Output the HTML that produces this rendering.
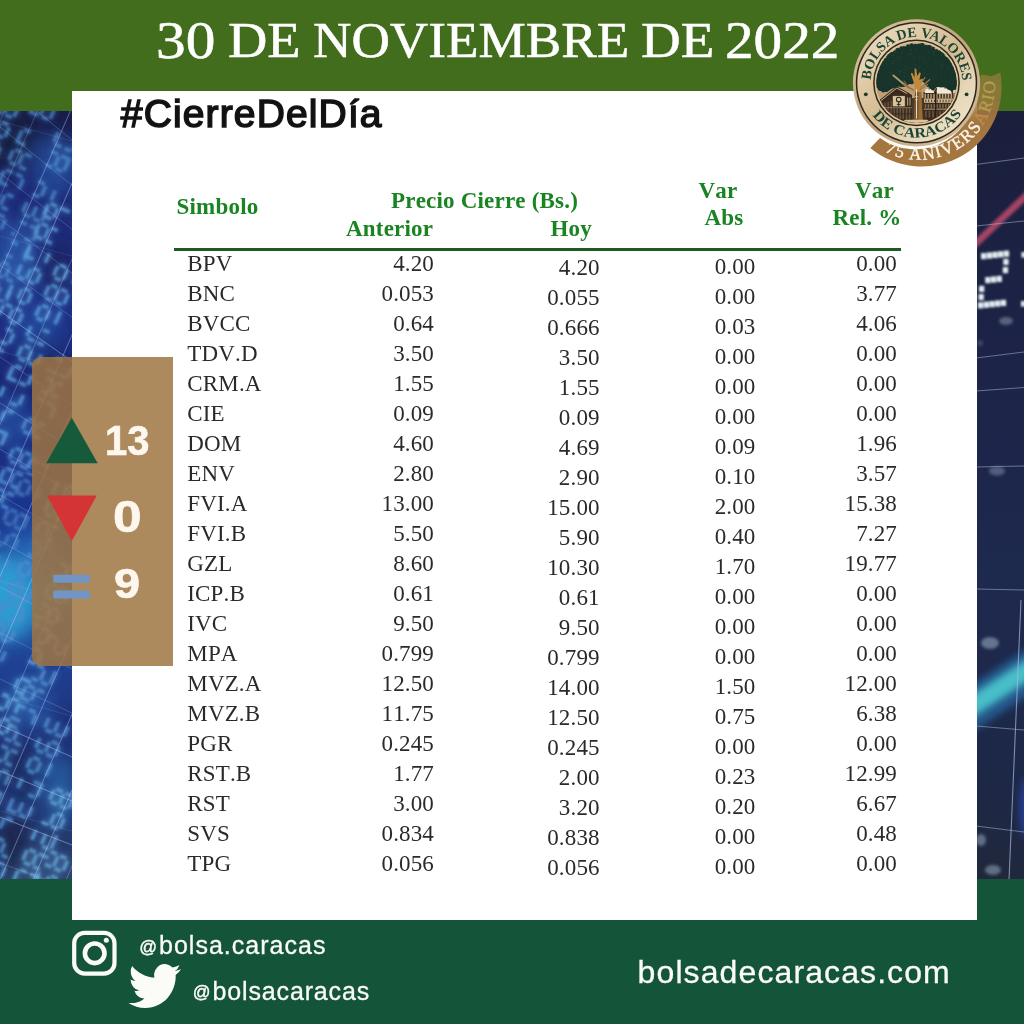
<!DOCTYPE html>
<html lang="es">
<head>
<meta charset="utf-8">
<title>Cierre del Día - Bolsa de Valores de Caracas</title>
<style>
html,body{margin:0;padding:0;}
body{width:1024px;height:1024px;position:relative;overflow:hidden;background:#1b2a5a;font-family:"Liberation Sans",sans-serif;}
.abs{position:absolute;}
#bgL{left:0;top:111px;overflow:hidden;}
#bgR{left:976px;top:111px;overflow:hidden;}
#top{left:0;top:0;width:1024px;height:111px;background:#416d1c;}
#bot{left:0;top:879px;width:1024px;height:145px;background:#14553a;}
#panel{left:72px;top:91px;width:904.6px;height:828.8px;background:#fff;}
#title{-webkit-text-stroke:0.55px #fff;left:0;top:10px;width:1024px;height:60px;color:#fff;font-family:"Liberation Serif",serif;font-size:50px;line-height:60px;white-space:nowrap;transform-origin:0 0;}
#title .w{position:absolute;top:0;transform-origin:0 0;}
#w1{left:156.3px;font-size:52.5px;top:-0.8px;transform:scaleX(1.13);}#w2{left:228.3px;transform:scaleX(1.089);}#w3{left:313px;transform:scaleX(1.064);}#w4{left:640.7px;transform:scaleX(1.10);}#w5{left:724.8px;font-size:52.5px;top:-0.8px;transform:scaleX(1.089);}
#hash{left:120.8px;top:91.8px;letter-spacing:1.14px;-webkit-text-stroke:1.55px #141414;font-weight:normal;font-size:39px;line-height:44px;color:#111;white-space:nowrap;transform-origin:0 0;}
#side{left:32px;top:357px;width:141px;height:309px;background:rgba(159,116,66,0.85);border-radius:9px 0 0 9px;}
.num{-webkit-text-stroke:0.7px #fdf7ee;color:#fdf7ee;font-weight:bold;font-size:41px;line-height:46px;position:absolute;white-space:nowrap;}
.t{font-kerning:none;font-family:"Liberation Serif",serif;color:#2a2a2a;font-size:23px;line-height:30px;letter-spacing:0.15px;position:absolute;white-space:nowrap;}
.h{font-kerning:none;font-family:"Liberation Serif",serif;color:#1a8422;font-weight:bold;font-size:23px;line-height:24px;letter-spacing:0.2px;position:absolute;white-space:nowrap;}
#data{border-collapse:collapse;border-spacing:0;table-layout:fixed;}
#data td{padding:0;height:30px;text-align:right;vertical-align:top;overflow:visible;}
#data td.s{text-align:left;padding-left:13.3px;}
#data span{position:relative;display:inline-block;line-height:30px;}
#rule{left:174px;top:248px;width:727px;height:2.5px;background:#1c5a1e;}
.soc{-webkit-text-stroke:0.3px #fbfbf7;color:#fbfbf7;font-size:25px;line-height:36px;position:absolute;white-space:nowrap;letter-spacing:0.75px;}
.at{font-size:17.5px;position:relative;top:-1.6px;letter-spacing:1.9px;-webkit-text-stroke:0.45px #fbfbf7;}
</style>
</head>
<body>
<svg id="bgL" class="abs" width="73" height="769" viewBox="0 0 73 769">
<defs>
<linearGradient id="lg1" x1="0" y1="0" x2="0" y2="1">
<stop offset="0" stop-color="#191d48"/><stop offset="0.10" stop-color="#1d2a74"/><stop offset="0.26" stop-color="#1f3086"/>
<stop offset="0.36" stop-color="#1a2672"/><stop offset="0.46" stop-color="#1c2e86"/><stop offset="0.54" stop-color="#1e3a94"/><stop offset="0.62" stop-color="#2368b4"/>
<stop offset="0.70" stop-color="#21469a"/><stop offset="0.80" stop-color="#1e3178"/><stop offset="0.92" stop-color="#223670"/><stop offset="1" stop-color="#293f6a"/>
</linearGradient>
<filter id="bl8" x="-50%" y="-50%" width="200%" height="200%"><feGaussianBlur stdDeviation="9"/></filter>
<filter id="bl3" x="-50%" y="-50%" width="200%" height="200%"><feGaussianBlur stdDeviation="2.5"/></filter>
<filter id="glow" x="-10%" y="-10%" width="120%" height="120%"><feGaussianBlur in="SourceGraphic" stdDeviation="3" result="g"/><feGaussianBlur in="SourceGraphic" stdDeviation="0.9" result="s"/><feMerge><feMergeNode in="g"/><feMergeNode in="s"/></feMerge></filter>
</defs>
<rect width="73" height="769" fill="url(#lg1)"/>
<g filter="url(#bl8)">
<ellipse cx="6" cy="22" rx="30" ry="36" fill="#171c40" opacity="0.95"/>
<ellipse cx="58" cy="157" rx="18" ry="26" fill="#15205c" opacity="0.8"/>
<ellipse cx="44" cy="237" rx="20" ry="18" fill="#172260" opacity="0.6"/>
<ellipse cx="20" cy="359" rx="24" ry="30" fill="#182a7c" opacity="0.5"/>
<ellipse cx="55" cy="54" rx="22" ry="30" fill="#2c68c0" opacity="0.5"/>
<ellipse cx="15" cy="144" rx="20" ry="36" fill="#2f70c4" opacity="0.5"/>
<ellipse cx="40" cy="219" rx="22" ry="24" fill="#2b64bc" opacity="0.4"/>
<ellipse cx="12" cy="309" rx="18" ry="28" fill="#2c6cc2" opacity="0.45"/>
<ellipse cx="8" cy="487" rx="30" ry="42" fill="#2fa8d8" opacity="0.85"/>
<ellipse cx="34" cy="449" rx="22" ry="30" fill="#2a86cc" opacity="0.45"/>
<ellipse cx="52" cy="529" rx="14" ry="30" fill="#1d3a94" opacity="0.5"/>
<ellipse cx="28" cy="594" rx="24" ry="26" fill="#2c72c4" opacity="0.45"/>
<ellipse cx="60" cy="679" rx="16" ry="36" fill="#2e80c6" opacity="0.5"/>
<ellipse cx="10" cy="734" rx="16" ry="30" fill="#181f44" opacity="0.8"/>
<ellipse cx="22" cy="659" rx="16" ry="24" fill="#1a2858" opacity="0.55"/>
<ellipse cx="45" cy="757" rx="30" ry="14" fill="#3a5884" opacity="0.5"/>
<ellipse cx="62" cy="369" rx="12" ry="36" fill="#14246a" opacity="0.4"/>
</g>
<g filter="url(#glow)">
<path transform="translate(-26,40) rotate(-66)" fill="#4f8ccc" opacity="0.7" d="M3.5 0.0h3.4v3.4h-3.4zM7.0 0.0h3.4v3.4h-3.4zM10.5 0.0h3.4v3.4h-3.4zM14.0 3.5h3.4v3.4h-3.4zM14.0 7.0h3.4v3.4h-3.4zM3.5 10.5h3.4v3.4h-3.4zM7.0 10.5h3.4v3.4h-3.4zM10.5 10.5h3.4v3.4h-3.4zM14.0 14.0h3.4v3.4h-3.4zM14.0 17.5h3.4v3.4h-3.4zM3.5 21.0h3.4v3.4h-3.4zM7.0 21.0h3.4v3.4h-3.4zM10.5 21.0h3.4v3.4h-3.4zM0.0 0.0h3.4v3.4h-3.4zM25.6 0.0h3.4v3.4h-3.4zM29.1 0.0h3.4v3.4h-3.4zM32.5 0.0h3.4v3.4h-3.4zM22.1 3.5h3.4v3.4h-3.4zM22.1 7.0h3.4v3.4h-3.4zM25.6 10.5h3.4v3.4h-3.4zM29.1 10.5h3.4v3.4h-3.4zM32.5 10.5h3.4v3.4h-3.4zM22.1 14.0h3.4v3.4h-3.4zM22.1 17.5h3.4v3.4h-3.4zM36.0 14.0h3.4v3.4h-3.4zM36.0 17.5h3.4v3.4h-3.4zM25.6 21.0h3.4v3.4h-3.4zM29.1 21.0h3.4v3.4h-3.4zM32.5 21.0h3.4v3.4h-3.4zM22.1 0.0h3.4v3.4h-3.4zM47.6 0.0h3.4v3.4h-3.4zM51.1 0.0h3.4v3.4h-3.4zM54.6 0.0h3.4v3.4h-3.4zM44.1 3.5h3.4v3.4h-3.4zM44.1 7.0h3.4v3.4h-3.4zM58.1 3.5h3.4v3.4h-3.4zM58.1 7.0h3.4v3.4h-3.4zM47.6 10.5h3.4v3.4h-3.4zM51.1 10.5h3.4v3.4h-3.4zM54.6 10.5h3.4v3.4h-3.4zM44.1 14.0h3.4v3.4h-3.4zM44.1 17.5h3.4v3.4h-3.4zM58.1 14.0h3.4v3.4h-3.4zM58.1 17.5h3.4v3.4h-3.4zM47.6 21.0h3.4v3.4h-3.4zM51.1 21.0h3.4v3.4h-3.4zM54.6 21.0h3.4v3.4h-3.4zM69.7 0.0h3.4v3.4h-3.4zM73.2 0.0h3.4v3.4h-3.4zM76.7 0.0h3.4v3.4h-3.4zM66.2 3.5h3.4v3.4h-3.4zM66.2 7.0h3.4v3.4h-3.4zM80.2 3.5h3.4v3.4h-3.4zM80.2 7.0h3.4v3.4h-3.4zM69.7 10.5h3.4v3.4h-3.4zM73.2 10.5h3.4v3.4h-3.4zM76.7 10.5h3.4v3.4h-3.4zM66.2 14.0h3.4v3.4h-3.4zM66.2 17.5h3.4v3.4h-3.4zM80.2 14.0h3.4v3.4h-3.4zM80.2 17.5h3.4v3.4h-3.4zM80.2 21.0h3.4v3.4h-3.4zM91.7 0.0h3.4v3.4h-3.4zM95.2 0.0h3.4v3.4h-3.4zM98.7 0.0h3.4v3.4h-3.4zM88.2 3.5h3.4v3.4h-3.4zM88.2 7.0h3.4v3.4h-3.4zM91.7 10.5h3.4v3.4h-3.4zM95.2 10.5h3.4v3.4h-3.4zM98.7 10.5h3.4v3.4h-3.4zM88.2 14.0h3.4v3.4h-3.4zM88.2 17.5h3.4v3.4h-3.4zM102.2 14.0h3.4v3.4h-3.4zM102.2 17.5h3.4v3.4h-3.4zM91.7 21.0h3.4v3.4h-3.4zM95.2 21.0h3.4v3.4h-3.4zM98.7 21.0h3.4v3.4h-3.4zM102.2 21.0h3.4v3.4h-3.4zM124.2 0.0h3.4v3.4h-3.4zM127.8 0.0h3.4v3.4h-3.4zM131.2 0.0h3.4v3.4h-3.4zM120.8 3.5h3.4v3.4h-3.4zM120.8 7.0h3.4v3.4h-3.4zM124.2 10.5h3.4v3.4h-3.4zM127.8 10.5h3.4v3.4h-3.4zM131.2 10.5h3.4v3.4h-3.4zM134.8 14.0h3.4v3.4h-3.4zM134.8 17.5h3.4v3.4h-3.4zM124.2 21.0h3.4v3.4h-3.4zM127.8 21.0h3.4v3.4h-3.4zM131.2 21.0h3.4v3.4h-3.4zM146.3 0.0h3.4v3.4h-3.4zM149.8 0.0h3.4v3.4h-3.4zM153.3 0.0h3.4v3.4h-3.4zM142.8 3.5h3.4v3.4h-3.4zM142.8 7.0h3.4v3.4h-3.4zM156.8 3.5h3.4v3.4h-3.4zM156.8 7.0h3.4v3.4h-3.4zM142.8 14.0h3.4v3.4h-3.4zM142.8 17.5h3.4v3.4h-3.4zM156.8 14.0h3.4v3.4h-3.4zM156.8 17.5h3.4v3.4h-3.4zM146.3 21.0h3.4v3.4h-3.4zM149.8 21.0h3.4v3.4h-3.4zM153.3 21.0h3.4v3.4h-3.4z"/>
<path transform="translate(-21,112) rotate(-66)" fill="#4f8ccc" opacity="0.65" d="M3.5 0.0h3.4v3.4h-3.4zM7.0 0.0h3.4v3.4h-3.4zM10.5 0.0h3.4v3.4h-3.4zM0.0 3.5h3.4v3.4h-3.4zM0.0 7.0h3.4v3.4h-3.4zM14.0 3.5h3.4v3.4h-3.4zM14.0 7.0h3.4v3.4h-3.4zM3.5 10.5h3.4v3.4h-3.4zM7.0 10.5h3.4v3.4h-3.4zM10.5 10.5h3.4v3.4h-3.4zM0.0 14.0h3.4v3.4h-3.4zM0.0 17.5h3.4v3.4h-3.4zM14.0 14.0h3.4v3.4h-3.4zM14.0 17.5h3.4v3.4h-3.4zM3.5 21.0h3.4v3.4h-3.4zM7.0 21.0h3.4v3.4h-3.4zM10.5 21.0h3.4v3.4h-3.4zM25.6 0.0h3.4v3.4h-3.4zM29.1 0.0h3.4v3.4h-3.4zM32.5 0.0h3.4v3.4h-3.4zM22.1 3.5h3.4v3.4h-3.4zM22.1 7.0h3.4v3.4h-3.4zM25.6 10.5h3.4v3.4h-3.4zM29.1 10.5h3.4v3.4h-3.4zM32.5 10.5h3.4v3.4h-3.4zM22.1 14.0h3.4v3.4h-3.4zM22.1 17.5h3.4v3.4h-3.4zM36.0 14.0h3.4v3.4h-3.4zM36.0 17.5h3.4v3.4h-3.4zM47.6 0.0h3.4v3.4h-3.4zM51.1 0.0h3.4v3.4h-3.4zM54.6 0.0h3.4v3.4h-3.4zM44.1 3.5h3.4v3.4h-3.4zM44.1 7.0h3.4v3.4h-3.4zM58.1 3.5h3.4v3.4h-3.4zM58.1 7.0h3.4v3.4h-3.4zM58.1 14.0h3.4v3.4h-3.4zM58.1 17.5h3.4v3.4h-3.4zM47.6 21.0h3.4v3.4h-3.4zM51.1 21.0h3.4v3.4h-3.4zM54.6 21.0h3.4v3.4h-3.4zM44.1 0.0h3.4v3.4h-3.4zM69.7 0.0h3.4v3.4h-3.4zM73.2 0.0h3.4v3.4h-3.4zM76.7 0.0h3.4v3.4h-3.4zM66.2 3.5h3.4v3.4h-3.4zM66.2 7.0h3.4v3.4h-3.4zM80.2 3.5h3.4v3.4h-3.4zM80.2 7.0h3.4v3.4h-3.4zM69.7 10.5h3.4v3.4h-3.4zM73.2 10.5h3.4v3.4h-3.4zM76.7 10.5h3.4v3.4h-3.4zM66.2 14.0h3.4v3.4h-3.4zM66.2 17.5h3.4v3.4h-3.4zM80.2 14.0h3.4v3.4h-3.4zM80.2 17.5h3.4v3.4h-3.4zM91.7 0.0h3.4v3.4h-3.4zM95.2 0.0h3.4v3.4h-3.4zM98.7 0.0h3.4v3.4h-3.4zM88.2 3.5h3.4v3.4h-3.4zM88.2 7.0h3.4v3.4h-3.4zM102.2 3.5h3.4v3.4h-3.4zM102.2 7.0h3.4v3.4h-3.4zM88.2 0.0h3.4v3.4h-3.4zM124.2 0.0h3.4v3.4h-3.4zM127.8 0.0h3.4v3.4h-3.4zM131.2 0.0h3.4v3.4h-3.4zM120.8 3.5h3.4v3.4h-3.4zM120.8 7.0h3.4v3.4h-3.4zM134.8 3.5h3.4v3.4h-3.4zM134.8 7.0h3.4v3.4h-3.4zM124.2 10.5h3.4v3.4h-3.4zM127.8 10.5h3.4v3.4h-3.4zM131.2 10.5h3.4v3.4h-3.4zM120.8 14.0h3.4v3.4h-3.4zM120.8 17.5h3.4v3.4h-3.4zM134.8 14.0h3.4v3.4h-3.4zM134.8 17.5h3.4v3.4h-3.4zM124.2 21.0h3.4v3.4h-3.4zM127.8 21.0h3.4v3.4h-3.4zM131.2 21.0h3.4v3.4h-3.4zM120.8 0.0h3.4v3.4h-3.4zM146.3 0.0h3.4v3.4h-3.4zM149.8 0.0h3.4v3.4h-3.4zM153.3 0.0h3.4v3.4h-3.4zM156.8 3.5h3.4v3.4h-3.4zM156.8 7.0h3.4v3.4h-3.4zM146.3 10.5h3.4v3.4h-3.4zM149.8 10.5h3.4v3.4h-3.4zM153.3 10.5h3.4v3.4h-3.4zM142.8 14.0h3.4v3.4h-3.4zM142.8 17.5h3.4v3.4h-3.4zM156.8 14.0h3.4v3.4h-3.4zM156.8 17.5h3.4v3.4h-3.4zM146.3 21.0h3.4v3.4h-3.4zM149.8 21.0h3.4v3.4h-3.4zM153.3 21.0h3.4v3.4h-3.4zM156.8 21.0h3.4v3.4h-3.4zM168.4 0.0h3.4v3.4h-3.4zM171.9 0.0h3.4v3.4h-3.4zM175.4 0.0h3.4v3.4h-3.4zM164.9 3.5h3.4v3.4h-3.4zM164.9 7.0h3.4v3.4h-3.4zM178.9 3.5h3.4v3.4h-3.4zM178.9 7.0h3.4v3.4h-3.4zM168.4 10.5h3.4v3.4h-3.4zM171.9 10.5h3.4v3.4h-3.4zM175.4 10.5h3.4v3.4h-3.4zM164.9 14.0h3.4v3.4h-3.4zM164.9 17.5h3.4v3.4h-3.4zM178.9 14.0h3.4v3.4h-3.4zM178.9 17.5h3.4v3.4h-3.4zM164.9 0.0h3.4v3.4h-3.4z"/>
<path transform="translate(-16,184) rotate(-66)" fill="#4f8ccc" opacity="0.7" d="M14.0 3.5h3.4v3.4h-3.4zM14.0 7.0h3.4v3.4h-3.4zM3.5 10.5h3.4v3.4h-3.4zM7.0 10.5h3.4v3.4h-3.4zM10.5 10.5h3.4v3.4h-3.4zM0.0 14.0h3.4v3.4h-3.4zM0.0 17.5h3.4v3.4h-3.4zM3.5 21.0h3.4v3.4h-3.4zM7.0 21.0h3.4v3.4h-3.4zM10.5 21.0h3.4v3.4h-3.4zM25.6 0.0h3.4v3.4h-3.4zM29.1 0.0h3.4v3.4h-3.4zM32.5 0.0h3.4v3.4h-3.4zM22.1 3.5h3.4v3.4h-3.4zM22.1 7.0h3.4v3.4h-3.4zM36.0 3.5h3.4v3.4h-3.4zM36.0 7.0h3.4v3.4h-3.4zM25.6 10.5h3.4v3.4h-3.4zM29.1 10.5h3.4v3.4h-3.4zM32.5 10.5h3.4v3.4h-3.4zM22.1 14.0h3.4v3.4h-3.4zM22.1 17.5h3.4v3.4h-3.4zM22.1 0.0h3.4v3.4h-3.4zM44.1 3.5h3.4v3.4h-3.4zM44.1 7.0h3.4v3.4h-3.4zM58.1 3.5h3.4v3.4h-3.4zM58.1 7.0h3.4v3.4h-3.4zM47.6 21.0h3.4v3.4h-3.4zM51.1 21.0h3.4v3.4h-3.4zM54.6 21.0h3.4v3.4h-3.4zM58.1 21.0h3.4v3.4h-3.4zM80.2 3.5h3.4v3.4h-3.4zM80.2 7.0h3.4v3.4h-3.4zM66.2 14.0h3.4v3.4h-3.4zM66.2 17.5h3.4v3.4h-3.4zM80.2 14.0h3.4v3.4h-3.4zM80.2 17.5h3.4v3.4h-3.4zM69.7 21.0h3.4v3.4h-3.4zM73.2 21.0h3.4v3.4h-3.4zM76.7 21.0h3.4v3.4h-3.4zM66.2 0.0h3.4v3.4h-3.4zM91.7 0.0h3.4v3.4h-3.4zM95.2 0.0h3.4v3.4h-3.4zM98.7 0.0h3.4v3.4h-3.4zM88.2 3.5h3.4v3.4h-3.4zM88.2 7.0h3.4v3.4h-3.4zM91.7 10.5h3.4v3.4h-3.4zM95.2 10.5h3.4v3.4h-3.4zM98.7 10.5h3.4v3.4h-3.4zM88.2 14.0h3.4v3.4h-3.4zM88.2 17.5h3.4v3.4h-3.4zM91.7 21.0h3.4v3.4h-3.4zM95.2 21.0h3.4v3.4h-3.4zM98.7 21.0h3.4v3.4h-3.4zM102.2 21.0h3.4v3.4h-3.4zM110.2 3.5h3.4v3.4h-3.4zM110.2 7.0h3.4v3.4h-3.4zM124.2 3.5h3.4v3.4h-3.4zM124.2 7.0h3.4v3.4h-3.4zM113.8 10.5h3.4v3.4h-3.4zM117.2 10.5h3.4v3.4h-3.4zM120.8 10.5h3.4v3.4h-3.4zM113.8 21.0h3.4v3.4h-3.4zM117.2 21.0h3.4v3.4h-3.4zM120.8 21.0h3.4v3.4h-3.4zM142.8 3.5h3.4v3.4h-3.4zM142.8 7.0h3.4v3.4h-3.4zM156.8 3.5h3.4v3.4h-3.4zM156.8 7.0h3.4v3.4h-3.4zM146.3 10.5h3.4v3.4h-3.4zM149.8 10.5h3.4v3.4h-3.4zM153.3 10.5h3.4v3.4h-3.4zM142.8 14.0h3.4v3.4h-3.4zM142.8 17.5h3.4v3.4h-3.4zM156.8 14.0h3.4v3.4h-3.4zM156.8 17.5h3.4v3.4h-3.4zM146.3 21.0h3.4v3.4h-3.4zM149.8 21.0h3.4v3.4h-3.4zM153.3 21.0h3.4v3.4h-3.4zM156.8 21.0h3.4v3.4h-3.4zM168.4 0.0h3.4v3.4h-3.4zM171.9 0.0h3.4v3.4h-3.4zM175.4 0.0h3.4v3.4h-3.4zM164.9 3.5h3.4v3.4h-3.4zM164.9 7.0h3.4v3.4h-3.4zM164.9 14.0h3.4v3.4h-3.4zM164.9 17.5h3.4v3.4h-3.4zM168.4 21.0h3.4v3.4h-3.4zM171.9 21.0h3.4v3.4h-3.4zM175.4 21.0h3.4v3.4h-3.4z"/>
<path transform="translate(-26,256) rotate(-66)" fill="#5ea2dc" opacity="0.7" d="M14.0 0.0h3.4v3.4h-3.4zM17.5 0.0h3.4v3.4h-3.4zM21.0 0.0h3.4v3.4h-3.4zM24.5 3.5h3.4v3.4h-3.4zM24.5 7.0h3.4v3.4h-3.4zM14.0 10.5h3.4v3.4h-3.4zM17.5 10.5h3.4v3.4h-3.4zM21.0 10.5h3.4v3.4h-3.4zM24.5 14.0h3.4v3.4h-3.4zM24.5 17.5h3.4v3.4h-3.4zM32.5 3.5h3.4v3.4h-3.4zM32.5 7.0h3.4v3.4h-3.4zM32.5 14.0h3.4v3.4h-3.4zM32.5 17.5h3.4v3.4h-3.4zM46.5 14.0h3.4v3.4h-3.4zM46.5 17.5h3.4v3.4h-3.4zM36.0 21.0h3.4v3.4h-3.4zM39.5 21.0h3.4v3.4h-3.4zM43.0 21.0h3.4v3.4h-3.4zM58.1 0.0h3.4v3.4h-3.4zM61.6 0.0h3.4v3.4h-3.4zM65.1 0.0h3.4v3.4h-3.4zM68.6 3.5h3.4v3.4h-3.4zM68.6 7.0h3.4v3.4h-3.4zM58.1 10.5h3.4v3.4h-3.4zM61.6 10.5h3.4v3.4h-3.4zM65.1 10.5h3.4v3.4h-3.4zM54.6 14.0h3.4v3.4h-3.4zM54.6 17.5h3.4v3.4h-3.4zM68.6 14.0h3.4v3.4h-3.4zM68.6 17.5h3.4v3.4h-3.4zM58.1 21.0h3.4v3.4h-3.4zM61.6 21.0h3.4v3.4h-3.4zM65.1 21.0h3.4v3.4h-3.4zM80.1 0.0h3.4v3.4h-3.4zM83.6 0.0h3.4v3.4h-3.4zM87.1 0.0h3.4v3.4h-3.4zM80.1 10.5h3.4v3.4h-3.4zM83.6 10.5h3.4v3.4h-3.4zM87.1 10.5h3.4v3.4h-3.4zM76.6 14.0h3.4v3.4h-3.4zM76.6 17.5h3.4v3.4h-3.4zM90.6 14.0h3.4v3.4h-3.4zM90.6 17.5h3.4v3.4h-3.4zM80.1 21.0h3.4v3.4h-3.4zM83.6 21.0h3.4v3.4h-3.4zM87.1 21.0h3.4v3.4h-3.4zM76.6 0.0h3.4v3.4h-3.4zM102.2 0.0h3.4v3.4h-3.4zM105.7 0.0h3.4v3.4h-3.4zM109.2 0.0h3.4v3.4h-3.4zM98.7 3.5h3.4v3.4h-3.4zM98.7 7.0h3.4v3.4h-3.4zM102.2 10.5h3.4v3.4h-3.4zM105.7 10.5h3.4v3.4h-3.4zM109.2 10.5h3.4v3.4h-3.4zM98.7 14.0h3.4v3.4h-3.4zM98.7 17.5h3.4v3.4h-3.4zM112.7 14.0h3.4v3.4h-3.4zM112.7 17.5h3.4v3.4h-3.4zM102.2 21.0h3.4v3.4h-3.4zM105.7 21.0h3.4v3.4h-3.4zM109.2 21.0h3.4v3.4h-3.4zM124.2 0.0h3.4v3.4h-3.4zM127.7 0.0h3.4v3.4h-3.4zM131.2 0.0h3.4v3.4h-3.4zM120.7 3.5h3.4v3.4h-3.4zM120.7 7.0h3.4v3.4h-3.4zM124.2 21.0h3.4v3.4h-3.4zM127.7 21.0h3.4v3.4h-3.4zM131.2 21.0h3.4v3.4h-3.4zM120.7 0.0h3.4v3.4h-3.4zM146.3 0.0h3.4v3.4h-3.4zM149.8 0.0h3.4v3.4h-3.4zM153.3 0.0h3.4v3.4h-3.4zM142.8 3.5h3.4v3.4h-3.4zM142.8 7.0h3.4v3.4h-3.4zM156.8 3.5h3.4v3.4h-3.4zM156.8 7.0h3.4v3.4h-3.4zM146.3 10.5h3.4v3.4h-3.4zM149.8 10.5h3.4v3.4h-3.4zM153.3 10.5h3.4v3.4h-3.4zM142.8 14.0h3.4v3.4h-3.4zM142.8 17.5h3.4v3.4h-3.4zM156.8 14.0h3.4v3.4h-3.4zM156.8 17.5h3.4v3.4h-3.4zM168.3 0.0h3.4v3.4h-3.4zM171.8 0.0h3.4v3.4h-3.4zM175.3 0.0h3.4v3.4h-3.4zM164.8 3.5h3.4v3.4h-3.4zM164.8 7.0h3.4v3.4h-3.4zM178.8 3.5h3.4v3.4h-3.4zM178.8 7.0h3.4v3.4h-3.4zM168.3 10.5h3.4v3.4h-3.4zM171.8 10.5h3.4v3.4h-3.4zM175.3 10.5h3.4v3.4h-3.4zM178.8 14.0h3.4v3.4h-3.4zM178.8 17.5h3.4v3.4h-3.4zM178.8 21.0h3.4v3.4h-3.4z"/>
<path transform="translate(-21,328) rotate(-66)" fill="#5ea2dc" opacity="0.7" d="M0.0 3.5h3.4v3.4h-3.4zM0.0 7.0h3.4v3.4h-3.4zM14.0 3.5h3.4v3.4h-3.4zM14.0 7.0h3.4v3.4h-3.4zM3.5 10.5h3.4v3.4h-3.4zM7.0 10.5h3.4v3.4h-3.4zM10.5 10.5h3.4v3.4h-3.4zM0.0 14.0h3.4v3.4h-3.4zM0.0 17.5h3.4v3.4h-3.4zM14.0 14.0h3.4v3.4h-3.4zM14.0 17.5h3.4v3.4h-3.4zM3.5 21.0h3.4v3.4h-3.4zM7.0 21.0h3.4v3.4h-3.4zM10.5 21.0h3.4v3.4h-3.4zM14.0 21.0h3.4v3.4h-3.4zM25.6 0.0h3.4v3.4h-3.4zM29.1 0.0h3.4v3.4h-3.4zM32.5 0.0h3.4v3.4h-3.4zM22.1 3.5h3.4v3.4h-3.4zM22.1 7.0h3.4v3.4h-3.4zM25.6 10.5h3.4v3.4h-3.4zM29.1 10.5h3.4v3.4h-3.4zM32.5 10.5h3.4v3.4h-3.4zM36.0 14.0h3.4v3.4h-3.4zM36.0 17.5h3.4v3.4h-3.4zM22.1 0.0h3.4v3.4h-3.4zM47.6 0.0h3.4v3.4h-3.4zM51.1 0.0h3.4v3.4h-3.4zM54.6 0.0h3.4v3.4h-3.4zM44.1 14.0h3.4v3.4h-3.4zM44.1 17.5h3.4v3.4h-3.4zM47.6 21.0h3.4v3.4h-3.4zM51.1 21.0h3.4v3.4h-3.4zM54.6 21.0h3.4v3.4h-3.4zM69.7 0.0h3.4v3.4h-3.4zM73.2 0.0h3.4v3.4h-3.4zM76.7 0.0h3.4v3.4h-3.4zM66.2 3.5h3.4v3.4h-3.4zM66.2 7.0h3.4v3.4h-3.4zM80.2 3.5h3.4v3.4h-3.4zM80.2 7.0h3.4v3.4h-3.4zM66.2 14.0h3.4v3.4h-3.4zM66.2 17.5h3.4v3.4h-3.4zM69.7 21.0h3.4v3.4h-3.4zM73.2 21.0h3.4v3.4h-3.4zM76.7 21.0h3.4v3.4h-3.4zM66.2 0.0h3.4v3.4h-3.4zM91.7 0.0h3.4v3.4h-3.4zM95.2 0.0h3.4v3.4h-3.4zM98.7 0.0h3.4v3.4h-3.4zM88.2 3.5h3.4v3.4h-3.4zM88.2 7.0h3.4v3.4h-3.4zM102.2 3.5h3.4v3.4h-3.4zM102.2 7.0h3.4v3.4h-3.4zM91.7 10.5h3.4v3.4h-3.4zM95.2 10.5h3.4v3.4h-3.4zM98.7 10.5h3.4v3.4h-3.4zM88.2 14.0h3.4v3.4h-3.4zM88.2 17.5h3.4v3.4h-3.4zM91.7 21.0h3.4v3.4h-3.4zM95.2 21.0h3.4v3.4h-3.4zM98.7 21.0h3.4v3.4h-3.4zM113.8 0.0h3.4v3.4h-3.4zM117.2 0.0h3.4v3.4h-3.4zM120.8 0.0h3.4v3.4h-3.4zM110.2 3.5h3.4v3.4h-3.4zM110.2 7.0h3.4v3.4h-3.4zM110.2 14.0h3.4v3.4h-3.4zM110.2 17.5h3.4v3.4h-3.4zM124.2 14.0h3.4v3.4h-3.4zM124.2 17.5h3.4v3.4h-3.4zM135.8 0.0h3.4v3.4h-3.4zM139.3 0.0h3.4v3.4h-3.4zM142.8 0.0h3.4v3.4h-3.4zM132.3 3.5h3.4v3.4h-3.4zM132.3 7.0h3.4v3.4h-3.4zM146.3 3.5h3.4v3.4h-3.4zM146.3 7.0h3.4v3.4h-3.4zM135.8 10.5h3.4v3.4h-3.4zM139.3 10.5h3.4v3.4h-3.4zM142.8 10.5h3.4v3.4h-3.4zM135.8 21.0h3.4v3.4h-3.4zM139.3 21.0h3.4v3.4h-3.4zM142.8 21.0h3.4v3.4h-3.4zM146.3 21.0h3.4v3.4h-3.4zM157.9 0.0h3.4v3.4h-3.4zM161.4 0.0h3.4v3.4h-3.4zM164.9 0.0h3.4v3.4h-3.4zM154.4 3.5h3.4v3.4h-3.4zM154.4 7.0h3.4v3.4h-3.4zM168.4 3.5h3.4v3.4h-3.4zM168.4 7.0h3.4v3.4h-3.4zM157.9 10.5h3.4v3.4h-3.4zM161.4 10.5h3.4v3.4h-3.4zM164.9 10.5h3.4v3.4h-3.4zM154.4 14.0h3.4v3.4h-3.4zM154.4 17.5h3.4v3.4h-3.4zM168.4 14.0h3.4v3.4h-3.4zM168.4 17.5h3.4v3.4h-3.4zM157.9 21.0h3.4v3.4h-3.4zM161.4 21.0h3.4v3.4h-3.4zM164.9 21.0h3.4v3.4h-3.4zM179.9 0.0h3.4v3.4h-3.4zM183.4 0.0h3.4v3.4h-3.4zM186.9 0.0h3.4v3.4h-3.4zM176.4 3.5h3.4v3.4h-3.4zM176.4 7.0h3.4v3.4h-3.4zM190.4 3.5h3.4v3.4h-3.4zM190.4 7.0h3.4v3.4h-3.4zM179.9 10.5h3.4v3.4h-3.4zM183.4 10.5h3.4v3.4h-3.4zM186.9 10.5h3.4v3.4h-3.4zM179.9 21.0h3.4v3.4h-3.4zM183.4 21.0h3.4v3.4h-3.4zM186.9 21.0h3.4v3.4h-3.4z"/>
<path transform="translate(-16,400) rotate(-66)" fill="#5596d6" opacity="0.7" d="M10.5 3.5h3.4v3.4h-3.4zM10.5 7.0h3.4v3.4h-3.4zM24.5 3.5h3.4v3.4h-3.4zM24.5 7.0h3.4v3.4h-3.4zM14.0 10.5h3.4v3.4h-3.4zM17.5 10.5h3.4v3.4h-3.4zM21.0 10.5h3.4v3.4h-3.4zM10.5 14.0h3.4v3.4h-3.4zM10.5 17.5h3.4v3.4h-3.4zM24.5 14.0h3.4v3.4h-3.4zM24.5 17.5h3.4v3.4h-3.4zM36.0 0.0h3.4v3.4h-3.4zM39.5 0.0h3.4v3.4h-3.4zM43.0 0.0h3.4v3.4h-3.4zM32.5 3.5h3.4v3.4h-3.4zM32.5 7.0h3.4v3.4h-3.4zM46.5 3.5h3.4v3.4h-3.4zM46.5 7.0h3.4v3.4h-3.4zM36.0 10.5h3.4v3.4h-3.4zM39.5 10.5h3.4v3.4h-3.4zM43.0 10.5h3.4v3.4h-3.4zM32.5 14.0h3.4v3.4h-3.4zM32.5 17.5h3.4v3.4h-3.4zM46.5 14.0h3.4v3.4h-3.4zM46.5 17.5h3.4v3.4h-3.4zM32.5 0.0h3.4v3.4h-3.4zM58.1 0.0h3.4v3.4h-3.4zM61.6 0.0h3.4v3.4h-3.4zM65.1 0.0h3.4v3.4h-3.4zM54.6 3.5h3.4v3.4h-3.4zM54.6 7.0h3.4v3.4h-3.4zM68.6 3.5h3.4v3.4h-3.4zM68.6 7.0h3.4v3.4h-3.4zM58.1 10.5h3.4v3.4h-3.4zM61.6 10.5h3.4v3.4h-3.4zM65.1 10.5h3.4v3.4h-3.4zM54.6 14.0h3.4v3.4h-3.4zM54.6 17.5h3.4v3.4h-3.4zM68.6 14.0h3.4v3.4h-3.4zM68.6 17.5h3.4v3.4h-3.4zM58.1 21.0h3.4v3.4h-3.4zM61.6 21.0h3.4v3.4h-3.4zM65.1 21.0h3.4v3.4h-3.4zM90.6 0.0h3.4v3.4h-3.4zM94.1 0.0h3.4v3.4h-3.4zM97.6 0.0h3.4v3.4h-3.4zM87.1 3.5h3.4v3.4h-3.4zM87.1 7.0h3.4v3.4h-3.4zM101.1 3.5h3.4v3.4h-3.4zM101.1 7.0h3.4v3.4h-3.4zM90.6 10.5h3.4v3.4h-3.4zM94.1 10.5h3.4v3.4h-3.4zM97.6 10.5h3.4v3.4h-3.4zM87.1 14.0h3.4v3.4h-3.4zM87.1 17.5h3.4v3.4h-3.4zM101.1 14.0h3.4v3.4h-3.4zM101.1 17.5h3.4v3.4h-3.4zM123.2 3.5h3.4v3.4h-3.4zM123.2 7.0h3.4v3.4h-3.4zM123.2 14.0h3.4v3.4h-3.4zM123.2 17.5h3.4v3.4h-3.4zM112.7 21.0h3.4v3.4h-3.4zM116.2 21.0h3.4v3.4h-3.4zM119.7 21.0h3.4v3.4h-3.4zM131.2 3.5h3.4v3.4h-3.4zM131.2 7.0h3.4v3.4h-3.4zM145.2 3.5h3.4v3.4h-3.4zM145.2 7.0h3.4v3.4h-3.4zM134.8 10.5h3.4v3.4h-3.4zM138.2 10.5h3.4v3.4h-3.4zM141.8 10.5h3.4v3.4h-3.4zM131.2 14.0h3.4v3.4h-3.4zM131.2 17.5h3.4v3.4h-3.4zM145.2 14.0h3.4v3.4h-3.4zM145.2 17.5h3.4v3.4h-3.4zM153.3 3.5h3.4v3.4h-3.4zM153.3 7.0h3.4v3.4h-3.4zM167.3 3.5h3.4v3.4h-3.4zM167.3 7.0h3.4v3.4h-3.4zM153.3 14.0h3.4v3.4h-3.4zM153.3 17.5h3.4v3.4h-3.4zM156.8 21.0h3.4v3.4h-3.4zM160.3 21.0h3.4v3.4h-3.4zM163.8 21.0h3.4v3.4h-3.4zM153.3 0.0h3.4v3.4h-3.4z"/>
<path transform="translate(-26,472) rotate(-66)" fill="#4f8ccc" opacity="0.55" d="M3.5 0.0h3.4v3.4h-3.4zM7.0 0.0h3.4v3.4h-3.4zM10.5 0.0h3.4v3.4h-3.4zM0.0 3.5h3.4v3.4h-3.4zM0.0 7.0h3.4v3.4h-3.4zM14.0 3.5h3.4v3.4h-3.4zM14.0 7.0h3.4v3.4h-3.4zM3.5 10.5h3.4v3.4h-3.4zM7.0 10.5h3.4v3.4h-3.4zM10.5 10.5h3.4v3.4h-3.4zM0.0 14.0h3.4v3.4h-3.4zM0.0 17.5h3.4v3.4h-3.4zM14.0 14.0h3.4v3.4h-3.4zM14.0 17.5h3.4v3.4h-3.4zM3.5 21.0h3.4v3.4h-3.4zM7.0 21.0h3.4v3.4h-3.4zM10.5 21.0h3.4v3.4h-3.4zM14.0 21.0h3.4v3.4h-3.4zM25.6 0.0h3.4v3.4h-3.4zM29.1 0.0h3.4v3.4h-3.4zM32.5 0.0h3.4v3.4h-3.4zM22.1 3.5h3.4v3.4h-3.4zM22.1 7.0h3.4v3.4h-3.4zM25.6 10.5h3.4v3.4h-3.4zM29.1 10.5h3.4v3.4h-3.4zM32.5 10.5h3.4v3.4h-3.4zM25.6 21.0h3.4v3.4h-3.4zM29.1 21.0h3.4v3.4h-3.4zM32.5 21.0h3.4v3.4h-3.4zM47.6 0.0h3.4v3.4h-3.4zM51.1 0.0h3.4v3.4h-3.4zM54.6 0.0h3.4v3.4h-3.4zM44.1 3.5h3.4v3.4h-3.4zM44.1 7.0h3.4v3.4h-3.4zM47.6 10.5h3.4v3.4h-3.4zM51.1 10.5h3.4v3.4h-3.4zM54.6 10.5h3.4v3.4h-3.4zM58.1 14.0h3.4v3.4h-3.4zM58.1 17.5h3.4v3.4h-3.4zM47.6 21.0h3.4v3.4h-3.4zM51.1 21.0h3.4v3.4h-3.4zM54.6 21.0h3.4v3.4h-3.4zM69.7 0.0h3.4v3.4h-3.4zM73.2 0.0h3.4v3.4h-3.4zM76.7 0.0h3.4v3.4h-3.4zM66.2 3.5h3.4v3.4h-3.4zM66.2 7.0h3.4v3.4h-3.4zM80.2 3.5h3.4v3.4h-3.4zM80.2 7.0h3.4v3.4h-3.4zM69.7 10.5h3.4v3.4h-3.4zM73.2 10.5h3.4v3.4h-3.4zM76.7 10.5h3.4v3.4h-3.4zM66.2 14.0h3.4v3.4h-3.4zM66.2 17.5h3.4v3.4h-3.4zM80.2 14.0h3.4v3.4h-3.4zM80.2 17.5h3.4v3.4h-3.4zM69.7 21.0h3.4v3.4h-3.4zM73.2 21.0h3.4v3.4h-3.4zM76.7 21.0h3.4v3.4h-3.4zM80.2 21.0h3.4v3.4h-3.4zM102.2 0.0h3.4v3.4h-3.4zM105.7 0.0h3.4v3.4h-3.4zM109.2 0.0h3.4v3.4h-3.4zM98.7 3.5h3.4v3.4h-3.4zM98.7 7.0h3.4v3.4h-3.4zM112.7 3.5h3.4v3.4h-3.4zM112.7 7.0h3.4v3.4h-3.4zM102.2 10.5h3.4v3.4h-3.4zM105.7 10.5h3.4v3.4h-3.4zM109.2 10.5h3.4v3.4h-3.4zM102.2 21.0h3.4v3.4h-3.4zM105.7 21.0h3.4v3.4h-3.4zM109.2 21.0h3.4v3.4h-3.4zM98.7 0.0h3.4v3.4h-3.4zM124.2 0.0h3.4v3.4h-3.4zM127.8 0.0h3.4v3.4h-3.4zM131.2 0.0h3.4v3.4h-3.4zM120.8 3.5h3.4v3.4h-3.4zM120.8 7.0h3.4v3.4h-3.4zM134.8 3.5h3.4v3.4h-3.4zM134.8 7.0h3.4v3.4h-3.4zM134.8 14.0h3.4v3.4h-3.4zM134.8 17.5h3.4v3.4h-3.4z"/>
<path transform="translate(-21,544) rotate(-66)" fill="#4f8ccc" opacity="0.8" d="M0.0 3.5h3.4v3.4h-3.4zM0.0 7.0h3.4v3.4h-3.4zM3.5 10.5h3.4v3.4h-3.4zM7.0 10.5h3.4v3.4h-3.4zM10.5 10.5h3.4v3.4h-3.4zM0.0 14.0h3.4v3.4h-3.4zM0.0 17.5h3.4v3.4h-3.4zM3.5 21.0h3.4v3.4h-3.4zM7.0 21.0h3.4v3.4h-3.4zM10.5 21.0h3.4v3.4h-3.4zM0.0 0.0h3.4v3.4h-3.4zM25.6 0.0h3.4v3.4h-3.4zM29.1 0.0h3.4v3.4h-3.4zM32.5 0.0h3.4v3.4h-3.4zM22.1 3.5h3.4v3.4h-3.4zM22.1 7.0h3.4v3.4h-3.4zM36.0 3.5h3.4v3.4h-3.4zM36.0 7.0h3.4v3.4h-3.4zM25.6 10.5h3.4v3.4h-3.4zM29.1 10.5h3.4v3.4h-3.4zM32.5 10.5h3.4v3.4h-3.4zM22.1 14.0h3.4v3.4h-3.4zM22.1 17.5h3.4v3.4h-3.4zM25.6 21.0h3.4v3.4h-3.4zM29.1 21.0h3.4v3.4h-3.4zM32.5 21.0h3.4v3.4h-3.4zM47.6 0.0h3.4v3.4h-3.4zM51.1 0.0h3.4v3.4h-3.4zM54.6 0.0h3.4v3.4h-3.4zM58.1 3.5h3.4v3.4h-3.4zM58.1 7.0h3.4v3.4h-3.4zM44.1 14.0h3.4v3.4h-3.4zM44.1 17.5h3.4v3.4h-3.4zM58.1 14.0h3.4v3.4h-3.4zM58.1 17.5h3.4v3.4h-3.4zM47.6 21.0h3.4v3.4h-3.4zM51.1 21.0h3.4v3.4h-3.4zM54.6 21.0h3.4v3.4h-3.4zM69.7 0.0h3.4v3.4h-3.4zM73.2 0.0h3.4v3.4h-3.4zM76.7 0.0h3.4v3.4h-3.4zM66.2 3.5h3.4v3.4h-3.4zM66.2 7.0h3.4v3.4h-3.4zM80.2 3.5h3.4v3.4h-3.4zM80.2 7.0h3.4v3.4h-3.4zM69.7 10.5h3.4v3.4h-3.4zM73.2 10.5h3.4v3.4h-3.4zM76.7 10.5h3.4v3.4h-3.4zM66.2 14.0h3.4v3.4h-3.4zM66.2 17.5h3.4v3.4h-3.4zM69.7 21.0h3.4v3.4h-3.4zM73.2 21.0h3.4v3.4h-3.4zM76.7 21.0h3.4v3.4h-3.4zM91.7 0.0h3.4v3.4h-3.4zM95.2 0.0h3.4v3.4h-3.4zM98.7 0.0h3.4v3.4h-3.4zM88.2 3.5h3.4v3.4h-3.4zM88.2 7.0h3.4v3.4h-3.4zM102.2 3.5h3.4v3.4h-3.4zM102.2 7.0h3.4v3.4h-3.4zM91.7 10.5h3.4v3.4h-3.4zM95.2 10.5h3.4v3.4h-3.4zM98.7 10.5h3.4v3.4h-3.4zM110.2 3.5h3.4v3.4h-3.4zM110.2 7.0h3.4v3.4h-3.4zM124.2 3.5h3.4v3.4h-3.4zM124.2 7.0h3.4v3.4h-3.4zM113.8 10.5h3.4v3.4h-3.4zM117.2 10.5h3.4v3.4h-3.4zM120.8 10.5h3.4v3.4h-3.4zM124.2 14.0h3.4v3.4h-3.4zM124.2 17.5h3.4v3.4h-3.4zM135.8 0.0h3.4v3.4h-3.4zM139.3 0.0h3.4v3.4h-3.4zM142.8 0.0h3.4v3.4h-3.4zM146.3 3.5h3.4v3.4h-3.4zM146.3 7.0h3.4v3.4h-3.4zM135.8 10.5h3.4v3.4h-3.4zM139.3 10.5h3.4v3.4h-3.4zM142.8 10.5h3.4v3.4h-3.4zM132.3 14.0h3.4v3.4h-3.4zM132.3 17.5h3.4v3.4h-3.4zM146.3 14.0h3.4v3.4h-3.4zM146.3 17.5h3.4v3.4h-3.4zM157.9 0.0h3.4v3.4h-3.4zM161.4 0.0h3.4v3.4h-3.4zM164.9 0.0h3.4v3.4h-3.4zM154.4 3.5h3.4v3.4h-3.4zM154.4 7.0h3.4v3.4h-3.4zM168.4 3.5h3.4v3.4h-3.4zM168.4 7.0h3.4v3.4h-3.4zM157.9 10.5h3.4v3.4h-3.4zM161.4 10.5h3.4v3.4h-3.4zM164.9 10.5h3.4v3.4h-3.4zM154.4 14.0h3.4v3.4h-3.4zM154.4 17.5h3.4v3.4h-3.4zM168.4 14.0h3.4v3.4h-3.4zM168.4 17.5h3.4v3.4h-3.4zM157.9 21.0h3.4v3.4h-3.4zM161.4 21.0h3.4v3.4h-3.4zM164.9 21.0h3.4v3.4h-3.4zM179.9 0.0h3.4v3.4h-3.4zM183.4 0.0h3.4v3.4h-3.4zM186.9 0.0h3.4v3.4h-3.4zM179.9 10.5h3.4v3.4h-3.4zM183.4 10.5h3.4v3.4h-3.4zM186.9 10.5h3.4v3.4h-3.4zM176.4 14.0h3.4v3.4h-3.4zM176.4 17.5h3.4v3.4h-3.4zM190.4 14.0h3.4v3.4h-3.4zM190.4 17.5h3.4v3.4h-3.4zM179.9 21.0h3.4v3.4h-3.4zM183.4 21.0h3.4v3.4h-3.4zM186.9 21.0h3.4v3.4h-3.4zM176.4 0.0h3.4v3.4h-3.4z"/>
<path transform="translate(-16,616) rotate(-66)" fill="#5ea2dc" opacity="0.8" d="M3.5 0.0h3.4v3.4h-3.4zM7.0 0.0h3.4v3.4h-3.4zM10.5 0.0h3.4v3.4h-3.4zM3.5 10.5h3.4v3.4h-3.4zM7.0 10.5h3.4v3.4h-3.4zM10.5 10.5h3.4v3.4h-3.4zM0.0 14.0h3.4v3.4h-3.4zM0.0 17.5h3.4v3.4h-3.4zM14.0 14.0h3.4v3.4h-3.4zM14.0 17.5h3.4v3.4h-3.4zM3.5 21.0h3.4v3.4h-3.4zM7.0 21.0h3.4v3.4h-3.4zM10.5 21.0h3.4v3.4h-3.4zM0.0 0.0h3.4v3.4h-3.4zM22.1 3.5h3.4v3.4h-3.4zM22.1 7.0h3.4v3.4h-3.4zM36.0 3.5h3.4v3.4h-3.4zM36.0 7.0h3.4v3.4h-3.4zM25.6 10.5h3.4v3.4h-3.4zM29.1 10.5h3.4v3.4h-3.4zM32.5 10.5h3.4v3.4h-3.4zM36.0 14.0h3.4v3.4h-3.4zM36.0 17.5h3.4v3.4h-3.4zM25.6 21.0h3.4v3.4h-3.4zM29.1 21.0h3.4v3.4h-3.4zM32.5 21.0h3.4v3.4h-3.4zM22.1 0.0h3.4v3.4h-3.4zM47.6 10.5h3.4v3.4h-3.4zM51.1 10.5h3.4v3.4h-3.4zM54.6 10.5h3.4v3.4h-3.4zM44.1 14.0h3.4v3.4h-3.4zM44.1 17.5h3.4v3.4h-3.4zM58.1 14.0h3.4v3.4h-3.4zM58.1 17.5h3.4v3.4h-3.4zM58.1 21.0h3.4v3.4h-3.4zM76.7 14.0h3.4v3.4h-3.4zM76.7 17.5h3.4v3.4h-3.4zM90.7 14.0h3.4v3.4h-3.4zM90.7 17.5h3.4v3.4h-3.4zM80.2 21.0h3.4v3.4h-3.4zM83.7 21.0h3.4v3.4h-3.4zM87.2 21.0h3.4v3.4h-3.4zM112.7 3.5h3.4v3.4h-3.4zM112.7 7.0h3.4v3.4h-3.4zM98.7 14.0h3.4v3.4h-3.4zM98.7 17.5h3.4v3.4h-3.4zM112.7 14.0h3.4v3.4h-3.4zM112.7 17.5h3.4v3.4h-3.4zM102.2 21.0h3.4v3.4h-3.4zM105.7 21.0h3.4v3.4h-3.4zM109.2 21.0h3.4v3.4h-3.4zM120.8 3.5h3.4v3.4h-3.4zM120.8 7.0h3.4v3.4h-3.4zM134.8 3.5h3.4v3.4h-3.4zM134.8 7.0h3.4v3.4h-3.4zM124.2 10.5h3.4v3.4h-3.4zM127.8 10.5h3.4v3.4h-3.4zM131.2 10.5h3.4v3.4h-3.4zM120.8 14.0h3.4v3.4h-3.4zM120.8 17.5h3.4v3.4h-3.4zM134.8 14.0h3.4v3.4h-3.4zM134.8 17.5h3.4v3.4h-3.4zM124.2 21.0h3.4v3.4h-3.4zM127.8 21.0h3.4v3.4h-3.4zM131.2 21.0h3.4v3.4h-3.4zM120.8 0.0h3.4v3.4h-3.4zM146.3 0.0h3.4v3.4h-3.4zM149.8 0.0h3.4v3.4h-3.4zM153.3 0.0h3.4v3.4h-3.4zM142.8 3.5h3.4v3.4h-3.4zM142.8 7.0h3.4v3.4h-3.4zM156.8 3.5h3.4v3.4h-3.4zM156.8 7.0h3.4v3.4h-3.4zM146.3 10.5h3.4v3.4h-3.4zM149.8 10.5h3.4v3.4h-3.4zM153.3 10.5h3.4v3.4h-3.4zM142.8 14.0h3.4v3.4h-3.4zM142.8 17.5h3.4v3.4h-3.4zM156.8 14.0h3.4v3.4h-3.4zM156.8 17.5h3.4v3.4h-3.4zM146.3 21.0h3.4v3.4h-3.4zM149.8 21.0h3.4v3.4h-3.4zM153.3 21.0h3.4v3.4h-3.4zM164.9 3.5h3.4v3.4h-3.4zM164.9 7.0h3.4v3.4h-3.4zM178.9 3.5h3.4v3.4h-3.4zM178.9 7.0h3.4v3.4h-3.4zM168.4 10.5h3.4v3.4h-3.4zM171.9 10.5h3.4v3.4h-3.4zM175.4 10.5h3.4v3.4h-3.4zM178.9 14.0h3.4v3.4h-3.4zM178.9 17.5h3.4v3.4h-3.4zM168.4 21.0h3.4v3.4h-3.4zM171.9 21.0h3.4v3.4h-3.4zM175.4 21.0h3.4v3.4h-3.4zM164.9 0.0h3.4v3.4h-3.4z"/>
<path transform="translate(-26,688) rotate(-66)" fill="#66aade" opacity="0.55" d="M3.5 0.0h3.4v3.4h-3.4zM7.0 0.0h3.4v3.4h-3.4zM10.5 0.0h3.4v3.4h-3.4zM14.0 3.5h3.4v3.4h-3.4zM14.0 7.0h3.4v3.4h-3.4zM3.5 10.5h3.4v3.4h-3.4zM7.0 10.5h3.4v3.4h-3.4zM10.5 10.5h3.4v3.4h-3.4zM0.0 14.0h3.4v3.4h-3.4zM0.0 17.5h3.4v3.4h-3.4zM14.0 14.0h3.4v3.4h-3.4zM14.0 17.5h3.4v3.4h-3.4zM3.5 21.0h3.4v3.4h-3.4zM7.0 21.0h3.4v3.4h-3.4zM10.5 21.0h3.4v3.4h-3.4zM14.0 21.0h3.4v3.4h-3.4zM25.6 0.0h3.4v3.4h-3.4zM29.1 0.0h3.4v3.4h-3.4zM32.5 0.0h3.4v3.4h-3.4zM22.1 3.5h3.4v3.4h-3.4zM22.1 7.0h3.4v3.4h-3.4zM25.6 10.5h3.4v3.4h-3.4zM29.1 10.5h3.4v3.4h-3.4zM32.5 10.5h3.4v3.4h-3.4zM36.0 14.0h3.4v3.4h-3.4zM36.0 17.5h3.4v3.4h-3.4zM25.6 21.0h3.4v3.4h-3.4zM29.1 21.0h3.4v3.4h-3.4zM32.5 21.0h3.4v3.4h-3.4zM44.1 3.5h3.4v3.4h-3.4zM44.1 7.0h3.4v3.4h-3.4zM58.1 3.5h3.4v3.4h-3.4zM58.1 7.0h3.4v3.4h-3.4zM47.6 10.5h3.4v3.4h-3.4zM51.1 10.5h3.4v3.4h-3.4zM54.6 10.5h3.4v3.4h-3.4zM44.1 14.0h3.4v3.4h-3.4zM44.1 17.5h3.4v3.4h-3.4zM58.1 14.0h3.4v3.4h-3.4zM58.1 17.5h3.4v3.4h-3.4zM44.1 0.0h3.4v3.4h-3.4zM66.2 3.5h3.4v3.4h-3.4zM66.2 7.0h3.4v3.4h-3.4zM80.2 3.5h3.4v3.4h-3.4zM80.2 7.0h3.4v3.4h-3.4zM69.7 10.5h3.4v3.4h-3.4zM73.2 10.5h3.4v3.4h-3.4zM76.7 10.5h3.4v3.4h-3.4zM66.2 14.0h3.4v3.4h-3.4zM66.2 17.5h3.4v3.4h-3.4zM88.2 3.5h3.4v3.4h-3.4zM88.2 7.0h3.4v3.4h-3.4zM102.2 3.5h3.4v3.4h-3.4zM102.2 7.0h3.4v3.4h-3.4zM102.2 14.0h3.4v3.4h-3.4zM102.2 17.5h3.4v3.4h-3.4zM91.7 21.0h3.4v3.4h-3.4zM95.2 21.0h3.4v3.4h-3.4zM98.7 21.0h3.4v3.4h-3.4zM88.2 0.0h3.4v3.4h-3.4zM113.8 0.0h3.4v3.4h-3.4zM117.2 0.0h3.4v3.4h-3.4zM120.8 0.0h3.4v3.4h-3.4zM110.2 3.5h3.4v3.4h-3.4zM110.2 7.0h3.4v3.4h-3.4zM124.2 3.5h3.4v3.4h-3.4zM124.2 7.0h3.4v3.4h-3.4zM113.8 10.5h3.4v3.4h-3.4zM117.2 10.5h3.4v3.4h-3.4zM120.8 10.5h3.4v3.4h-3.4zM124.2 14.0h3.4v3.4h-3.4zM124.2 17.5h3.4v3.4h-3.4zM110.2 0.0h3.4v3.4h-3.4zM132.3 3.5h3.4v3.4h-3.4zM132.3 7.0h3.4v3.4h-3.4zM146.3 3.5h3.4v3.4h-3.4zM146.3 7.0h3.4v3.4h-3.4zM135.8 10.5h3.4v3.4h-3.4zM139.3 10.5h3.4v3.4h-3.4zM142.8 10.5h3.4v3.4h-3.4zM132.3 14.0h3.4v3.4h-3.4zM132.3 17.5h3.4v3.4h-3.4zM135.8 21.0h3.4v3.4h-3.4zM139.3 21.0h3.4v3.4h-3.4zM142.8 21.0h3.4v3.4h-3.4zM146.3 21.0h3.4v3.4h-3.4zM178.9 3.5h3.4v3.4h-3.4zM178.9 7.0h3.4v3.4h-3.4zM168.4 10.5h3.4v3.4h-3.4zM171.9 10.5h3.4v3.4h-3.4zM175.4 10.5h3.4v3.4h-3.4zM164.9 14.0h3.4v3.4h-3.4zM164.9 17.5h3.4v3.4h-3.4zM168.4 21.0h3.4v3.4h-3.4zM171.9 21.0h3.4v3.4h-3.4zM175.4 21.0h3.4v3.4h-3.4z"/>
<path transform="translate(-21,760) rotate(-66)" fill="#4f8ccc" opacity="0.8" d="M0.0 3.5h3.4v3.4h-3.4zM0.0 7.0h3.4v3.4h-3.4zM14.0 3.5h3.4v3.4h-3.4zM14.0 7.0h3.4v3.4h-3.4zM3.5 10.5h3.4v3.4h-3.4zM7.0 10.5h3.4v3.4h-3.4zM10.5 10.5h3.4v3.4h-3.4zM0.0 14.0h3.4v3.4h-3.4zM0.0 17.5h3.4v3.4h-3.4zM14.0 14.0h3.4v3.4h-3.4zM14.0 17.5h3.4v3.4h-3.4zM3.5 21.0h3.4v3.4h-3.4zM7.0 21.0h3.4v3.4h-3.4zM10.5 21.0h3.4v3.4h-3.4zM25.6 0.0h3.4v3.4h-3.4zM29.1 0.0h3.4v3.4h-3.4zM32.5 0.0h3.4v3.4h-3.4zM36.0 3.5h3.4v3.4h-3.4zM36.0 7.0h3.4v3.4h-3.4zM25.6 10.5h3.4v3.4h-3.4zM29.1 10.5h3.4v3.4h-3.4zM32.5 10.5h3.4v3.4h-3.4zM22.1 14.0h3.4v3.4h-3.4zM22.1 17.5h3.4v3.4h-3.4zM22.1 0.0h3.4v3.4h-3.4zM47.6 0.0h3.4v3.4h-3.4zM51.1 0.0h3.4v3.4h-3.4zM54.6 0.0h3.4v3.4h-3.4zM58.1 3.5h3.4v3.4h-3.4zM58.1 7.0h3.4v3.4h-3.4zM69.7 0.0h3.4v3.4h-3.4zM73.2 0.0h3.4v3.4h-3.4zM76.7 0.0h3.4v3.4h-3.4zM66.2 3.5h3.4v3.4h-3.4zM66.2 7.0h3.4v3.4h-3.4zM69.7 10.5h3.4v3.4h-3.4zM73.2 10.5h3.4v3.4h-3.4zM76.7 10.5h3.4v3.4h-3.4zM66.2 14.0h3.4v3.4h-3.4zM66.2 17.5h3.4v3.4h-3.4zM69.7 21.0h3.4v3.4h-3.4zM73.2 21.0h3.4v3.4h-3.4zM76.7 21.0h3.4v3.4h-3.4zM66.2 0.0h3.4v3.4h-3.4zM91.7 0.0h3.4v3.4h-3.4zM95.2 0.0h3.4v3.4h-3.4zM98.7 0.0h3.4v3.4h-3.4zM88.2 14.0h3.4v3.4h-3.4zM88.2 17.5h3.4v3.4h-3.4zM102.2 14.0h3.4v3.4h-3.4zM102.2 17.5h3.4v3.4h-3.4zM91.7 21.0h3.4v3.4h-3.4zM95.2 21.0h3.4v3.4h-3.4zM98.7 21.0h3.4v3.4h-3.4zM102.2 21.0h3.4v3.4h-3.4zM113.8 0.0h3.4v3.4h-3.4zM117.2 0.0h3.4v3.4h-3.4zM120.8 0.0h3.4v3.4h-3.4zM110.2 3.5h3.4v3.4h-3.4zM110.2 7.0h3.4v3.4h-3.4zM124.2 3.5h3.4v3.4h-3.4zM124.2 7.0h3.4v3.4h-3.4zM113.8 10.5h3.4v3.4h-3.4zM117.2 10.5h3.4v3.4h-3.4zM120.8 10.5h3.4v3.4h-3.4zM113.8 21.0h3.4v3.4h-3.4zM117.2 21.0h3.4v3.4h-3.4zM120.8 21.0h3.4v3.4h-3.4zM124.2 21.0h3.4v3.4h-3.4zM135.8 0.0h3.4v3.4h-3.4zM139.3 0.0h3.4v3.4h-3.4zM142.8 0.0h3.4v3.4h-3.4zM132.3 3.5h3.4v3.4h-3.4zM132.3 7.0h3.4v3.4h-3.4zM135.8 10.5h3.4v3.4h-3.4zM139.3 10.5h3.4v3.4h-3.4zM142.8 10.5h3.4v3.4h-3.4zM132.3 14.0h3.4v3.4h-3.4zM132.3 17.5h3.4v3.4h-3.4zM146.3 14.0h3.4v3.4h-3.4zM146.3 17.5h3.4v3.4h-3.4zM135.8 21.0h3.4v3.4h-3.4zM139.3 21.0h3.4v3.4h-3.4zM142.8 21.0h3.4v3.4h-3.4zM157.9 0.0h3.4v3.4h-3.4zM161.4 0.0h3.4v3.4h-3.4zM164.9 0.0h3.4v3.4h-3.4zM154.4 3.5h3.4v3.4h-3.4zM154.4 7.0h3.4v3.4h-3.4zM157.9 10.5h3.4v3.4h-3.4zM161.4 10.5h3.4v3.4h-3.4zM164.9 10.5h3.4v3.4h-3.4zM154.4 14.0h3.4v3.4h-3.4zM154.4 17.5h3.4v3.4h-3.4zM157.9 21.0h3.4v3.4h-3.4zM161.4 21.0h3.4v3.4h-3.4zM164.9 21.0h3.4v3.4h-3.4z"/>
<path transform="translate(-16,832) rotate(-66)" fill="#66aade" opacity="0.7" d="M0.0 3.5h3.4v3.4h-3.4zM0.0 7.0h3.4v3.4h-3.4zM14.0 3.5h3.4v3.4h-3.4zM14.0 7.0h3.4v3.4h-3.4zM3.5 10.5h3.4v3.4h-3.4zM7.0 10.5h3.4v3.4h-3.4zM10.5 10.5h3.4v3.4h-3.4zM0.0 14.0h3.4v3.4h-3.4zM0.0 17.5h3.4v3.4h-3.4zM3.5 21.0h3.4v3.4h-3.4zM7.0 21.0h3.4v3.4h-3.4zM10.5 21.0h3.4v3.4h-3.4zM22.1 3.5h3.4v3.4h-3.4zM22.1 7.0h3.4v3.4h-3.4zM36.0 3.5h3.4v3.4h-3.4zM36.0 7.0h3.4v3.4h-3.4zM36.0 14.0h3.4v3.4h-3.4zM36.0 17.5h3.4v3.4h-3.4zM25.6 21.0h3.4v3.4h-3.4zM29.1 21.0h3.4v3.4h-3.4zM32.5 21.0h3.4v3.4h-3.4zM47.6 0.0h3.4v3.4h-3.4zM51.1 0.0h3.4v3.4h-3.4zM54.6 0.0h3.4v3.4h-3.4zM44.1 3.5h3.4v3.4h-3.4zM44.1 7.0h3.4v3.4h-3.4zM58.1 3.5h3.4v3.4h-3.4zM58.1 7.0h3.4v3.4h-3.4zM47.6 10.5h3.4v3.4h-3.4zM51.1 10.5h3.4v3.4h-3.4zM54.6 10.5h3.4v3.4h-3.4zM44.1 14.0h3.4v3.4h-3.4zM44.1 17.5h3.4v3.4h-3.4zM58.1 14.0h3.4v3.4h-3.4zM58.1 17.5h3.4v3.4h-3.4zM47.6 21.0h3.4v3.4h-3.4zM51.1 21.0h3.4v3.4h-3.4zM54.6 21.0h3.4v3.4h-3.4zM44.1 0.0h3.4v3.4h-3.4zM69.7 0.0h3.4v3.4h-3.4zM73.2 0.0h3.4v3.4h-3.4zM76.7 0.0h3.4v3.4h-3.4zM66.2 3.5h3.4v3.4h-3.4zM66.2 7.0h3.4v3.4h-3.4zM80.2 3.5h3.4v3.4h-3.4zM80.2 7.0h3.4v3.4h-3.4zM66.2 14.0h3.4v3.4h-3.4zM66.2 17.5h3.4v3.4h-3.4zM80.2 14.0h3.4v3.4h-3.4zM80.2 17.5h3.4v3.4h-3.4zM69.7 21.0h3.4v3.4h-3.4zM73.2 21.0h3.4v3.4h-3.4zM76.7 21.0h3.4v3.4h-3.4zM80.2 21.0h3.4v3.4h-3.4zM91.7 0.0h3.4v3.4h-3.4zM95.2 0.0h3.4v3.4h-3.4zM98.7 0.0h3.4v3.4h-3.4zM88.2 3.5h3.4v3.4h-3.4zM88.2 7.0h3.4v3.4h-3.4zM102.2 3.5h3.4v3.4h-3.4zM102.2 7.0h3.4v3.4h-3.4zM91.7 10.5h3.4v3.4h-3.4zM95.2 10.5h3.4v3.4h-3.4zM98.7 10.5h3.4v3.4h-3.4zM88.2 14.0h3.4v3.4h-3.4zM88.2 17.5h3.4v3.4h-3.4zM102.2 14.0h3.4v3.4h-3.4zM102.2 17.5h3.4v3.4h-3.4zM102.2 21.0h3.4v3.4h-3.4zM113.8 0.0h3.4v3.4h-3.4zM117.2 0.0h3.4v3.4h-3.4zM120.8 0.0h3.4v3.4h-3.4zM113.8 10.5h3.4v3.4h-3.4zM117.2 10.5h3.4v3.4h-3.4zM120.8 10.5h3.4v3.4h-3.4zM110.2 14.0h3.4v3.4h-3.4zM110.2 17.5h3.4v3.4h-3.4zM113.8 21.0h3.4v3.4h-3.4zM117.2 21.0h3.4v3.4h-3.4zM120.8 21.0h3.4v3.4h-3.4zM124.2 21.0h3.4v3.4h-3.4zM132.3 3.5h3.4v3.4h-3.4zM132.3 7.0h3.4v3.4h-3.4zM135.8 10.5h3.4v3.4h-3.4zM139.3 10.5h3.4v3.4h-3.4zM142.8 10.5h3.4v3.4h-3.4zM132.3 14.0h3.4v3.4h-3.4zM132.3 17.5h3.4v3.4h-3.4zM146.3 14.0h3.4v3.4h-3.4zM146.3 17.5h3.4v3.4h-3.4zM135.8 21.0h3.4v3.4h-3.4zM139.3 21.0h3.4v3.4h-3.4zM142.8 21.0h3.4v3.4h-3.4zM157.9 0.0h3.4v3.4h-3.4zM161.4 0.0h3.4v3.4h-3.4zM164.9 0.0h3.4v3.4h-3.4zM154.4 3.5h3.4v3.4h-3.4zM154.4 7.0h3.4v3.4h-3.4zM168.4 3.5h3.4v3.4h-3.4zM168.4 7.0h3.4v3.4h-3.4zM157.9 10.5h3.4v3.4h-3.4zM161.4 10.5h3.4v3.4h-3.4zM164.9 10.5h3.4v3.4h-3.4zM154.4 14.0h3.4v3.4h-3.4zM154.4 17.5h3.4v3.4h-3.4zM168.4 14.0h3.4v3.4h-3.4zM168.4 17.5h3.4v3.4h-3.4zM157.9 21.0h3.4v3.4h-3.4zM161.4 21.0h3.4v3.4h-3.4zM164.9 21.0h3.4v3.4h-3.4z"/>
<path transform="translate(-26,904) rotate(-66)" fill="#66aade" opacity="0.7" d="M0.0 3.5h3.4v3.4h-3.4zM0.0 7.0h3.4v3.4h-3.4zM3.5 10.5h3.4v3.4h-3.4zM7.0 10.5h3.4v3.4h-3.4zM10.5 10.5h3.4v3.4h-3.4zM0.0 14.0h3.4v3.4h-3.4zM0.0 17.5h3.4v3.4h-3.4zM14.0 14.0h3.4v3.4h-3.4zM14.0 17.5h3.4v3.4h-3.4zM3.5 21.0h3.4v3.4h-3.4zM7.0 21.0h3.4v3.4h-3.4zM10.5 21.0h3.4v3.4h-3.4zM22.1 3.5h3.4v3.4h-3.4zM22.1 7.0h3.4v3.4h-3.4zM25.6 10.5h3.4v3.4h-3.4zM29.1 10.5h3.4v3.4h-3.4zM32.5 10.5h3.4v3.4h-3.4zM22.1 14.0h3.4v3.4h-3.4zM22.1 17.5h3.4v3.4h-3.4zM36.0 14.0h3.4v3.4h-3.4zM36.0 17.5h3.4v3.4h-3.4zM25.6 21.0h3.4v3.4h-3.4zM29.1 21.0h3.4v3.4h-3.4zM32.5 21.0h3.4v3.4h-3.4zM58.1 0.0h3.4v3.4h-3.4zM61.6 0.0h3.4v3.4h-3.4zM65.1 0.0h3.4v3.4h-3.4zM54.6 3.5h3.4v3.4h-3.4zM54.6 7.0h3.4v3.4h-3.4zM68.6 3.5h3.4v3.4h-3.4zM68.6 7.0h3.4v3.4h-3.4zM68.6 14.0h3.4v3.4h-3.4zM68.6 17.5h3.4v3.4h-3.4zM80.2 0.0h3.4v3.4h-3.4zM83.7 0.0h3.4v3.4h-3.4zM87.2 0.0h3.4v3.4h-3.4zM76.7 3.5h3.4v3.4h-3.4zM76.7 7.0h3.4v3.4h-3.4zM90.7 3.5h3.4v3.4h-3.4zM90.7 7.0h3.4v3.4h-3.4zM80.2 10.5h3.4v3.4h-3.4zM83.7 10.5h3.4v3.4h-3.4zM87.2 10.5h3.4v3.4h-3.4zM80.2 21.0h3.4v3.4h-3.4zM83.7 21.0h3.4v3.4h-3.4zM87.2 21.0h3.4v3.4h-3.4zM76.7 0.0h3.4v3.4h-3.4zM102.2 0.0h3.4v3.4h-3.4zM105.7 0.0h3.4v3.4h-3.4zM109.2 0.0h3.4v3.4h-3.4zM98.7 3.5h3.4v3.4h-3.4zM98.7 7.0h3.4v3.4h-3.4zM112.7 3.5h3.4v3.4h-3.4zM112.7 7.0h3.4v3.4h-3.4zM102.2 10.5h3.4v3.4h-3.4zM105.7 10.5h3.4v3.4h-3.4zM109.2 10.5h3.4v3.4h-3.4zM112.7 14.0h3.4v3.4h-3.4zM112.7 17.5h3.4v3.4h-3.4zM102.2 21.0h3.4v3.4h-3.4zM105.7 21.0h3.4v3.4h-3.4zM109.2 21.0h3.4v3.4h-3.4zM134.8 3.5h3.4v3.4h-3.4zM134.8 7.0h3.4v3.4h-3.4zM124.2 10.5h3.4v3.4h-3.4zM127.8 10.5h3.4v3.4h-3.4zM131.2 10.5h3.4v3.4h-3.4zM120.8 14.0h3.4v3.4h-3.4zM120.8 17.5h3.4v3.4h-3.4zM134.8 14.0h3.4v3.4h-3.4zM134.8 17.5h3.4v3.4h-3.4zM146.3 0.0h3.4v3.4h-3.4zM149.8 0.0h3.4v3.4h-3.4zM153.3 0.0h3.4v3.4h-3.4zM142.8 3.5h3.4v3.4h-3.4zM142.8 7.0h3.4v3.4h-3.4zM146.3 10.5h3.4v3.4h-3.4zM149.8 10.5h3.4v3.4h-3.4zM153.3 10.5h3.4v3.4h-3.4zM156.8 14.0h3.4v3.4h-3.4zM156.8 17.5h3.4v3.4h-3.4zM164.9 3.5h3.4v3.4h-3.4zM164.9 7.0h3.4v3.4h-3.4zM178.9 3.5h3.4v3.4h-3.4zM178.9 7.0h3.4v3.4h-3.4zM168.4 10.5h3.4v3.4h-3.4zM171.9 10.5h3.4v3.4h-3.4zM175.4 10.5h3.4v3.4h-3.4zM164.9 14.0h3.4v3.4h-3.4zM164.9 17.5h3.4v3.4h-3.4zM178.9 14.0h3.4v3.4h-3.4zM178.9 17.5h3.4v3.4h-3.4zM168.4 21.0h3.4v3.4h-3.4zM171.9 21.0h3.4v3.4h-3.4zM175.4 21.0h3.4v3.4h-3.4z"/>
<path transform="translate(-21,976) rotate(-66)" fill="#4f8ccc" opacity="0.7" d="M0.0 3.5h3.4v3.4h-3.4zM0.0 7.0h3.4v3.4h-3.4zM3.5 10.5h3.4v3.4h-3.4zM7.0 10.5h3.4v3.4h-3.4zM10.5 10.5h3.4v3.4h-3.4zM0.0 14.0h3.4v3.4h-3.4zM0.0 17.5h3.4v3.4h-3.4zM14.0 14.0h3.4v3.4h-3.4zM14.0 17.5h3.4v3.4h-3.4zM3.5 21.0h3.4v3.4h-3.4zM7.0 21.0h3.4v3.4h-3.4zM10.5 21.0h3.4v3.4h-3.4zM25.6 0.0h3.4v3.4h-3.4zM29.1 0.0h3.4v3.4h-3.4zM32.5 0.0h3.4v3.4h-3.4zM36.0 3.5h3.4v3.4h-3.4zM36.0 7.0h3.4v3.4h-3.4zM25.6 10.5h3.4v3.4h-3.4zM29.1 10.5h3.4v3.4h-3.4zM32.5 10.5h3.4v3.4h-3.4zM22.1 14.0h3.4v3.4h-3.4zM22.1 17.5h3.4v3.4h-3.4zM36.0 14.0h3.4v3.4h-3.4zM36.0 17.5h3.4v3.4h-3.4zM25.6 21.0h3.4v3.4h-3.4zM29.1 21.0h3.4v3.4h-3.4zM32.5 21.0h3.4v3.4h-3.4zM22.1 0.0h3.4v3.4h-3.4zM47.6 0.0h3.4v3.4h-3.4zM51.1 0.0h3.4v3.4h-3.4zM54.6 0.0h3.4v3.4h-3.4zM44.1 3.5h3.4v3.4h-3.4zM44.1 7.0h3.4v3.4h-3.4zM58.1 3.5h3.4v3.4h-3.4zM58.1 7.0h3.4v3.4h-3.4zM44.1 14.0h3.4v3.4h-3.4zM44.1 17.5h3.4v3.4h-3.4zM47.6 21.0h3.4v3.4h-3.4zM51.1 21.0h3.4v3.4h-3.4zM54.6 21.0h3.4v3.4h-3.4zM69.7 0.0h3.4v3.4h-3.4zM73.2 0.0h3.4v3.4h-3.4zM76.7 0.0h3.4v3.4h-3.4zM66.2 3.5h3.4v3.4h-3.4zM66.2 7.0h3.4v3.4h-3.4zM80.2 3.5h3.4v3.4h-3.4zM80.2 7.0h3.4v3.4h-3.4zM66.2 14.0h3.4v3.4h-3.4zM66.2 17.5h3.4v3.4h-3.4zM80.2 14.0h3.4v3.4h-3.4zM80.2 17.5h3.4v3.4h-3.4zM91.7 0.0h3.4v3.4h-3.4zM95.2 0.0h3.4v3.4h-3.4zM98.7 0.0h3.4v3.4h-3.4zM88.2 3.5h3.4v3.4h-3.4zM88.2 7.0h3.4v3.4h-3.4zM102.2 3.5h3.4v3.4h-3.4zM102.2 7.0h3.4v3.4h-3.4zM91.7 10.5h3.4v3.4h-3.4zM95.2 10.5h3.4v3.4h-3.4zM98.7 10.5h3.4v3.4h-3.4zM88.2 14.0h3.4v3.4h-3.4zM88.2 17.5h3.4v3.4h-3.4zM102.2 14.0h3.4v3.4h-3.4zM102.2 17.5h3.4v3.4h-3.4zM91.7 21.0h3.4v3.4h-3.4zM95.2 21.0h3.4v3.4h-3.4zM98.7 21.0h3.4v3.4h-3.4zM113.8 0.0h3.4v3.4h-3.4zM117.2 0.0h3.4v3.4h-3.4zM120.8 0.0h3.4v3.4h-3.4zM110.2 3.5h3.4v3.4h-3.4zM110.2 7.0h3.4v3.4h-3.4zM135.8 0.0h3.4v3.4h-3.4zM139.3 0.0h3.4v3.4h-3.4zM142.8 0.0h3.4v3.4h-3.4zM132.3 3.5h3.4v3.4h-3.4zM132.3 7.0h3.4v3.4h-3.4zM146.3 3.5h3.4v3.4h-3.4zM146.3 7.0h3.4v3.4h-3.4zM135.8 10.5h3.4v3.4h-3.4zM139.3 10.5h3.4v3.4h-3.4zM142.8 10.5h3.4v3.4h-3.4zM132.3 14.0h3.4v3.4h-3.4zM132.3 17.5h3.4v3.4h-3.4zM146.3 14.0h3.4v3.4h-3.4zM146.3 17.5h3.4v3.4h-3.4zM135.8 21.0h3.4v3.4h-3.4zM139.3 21.0h3.4v3.4h-3.4zM142.8 21.0h3.4v3.4h-3.4zM132.3 0.0h3.4v3.4h-3.4zM157.9 0.0h3.4v3.4h-3.4zM161.4 0.0h3.4v3.4h-3.4zM164.9 0.0h3.4v3.4h-3.4zM154.4 3.5h3.4v3.4h-3.4zM154.4 7.0h3.4v3.4h-3.4zM168.4 3.5h3.4v3.4h-3.4zM168.4 7.0h3.4v3.4h-3.4zM157.9 10.5h3.4v3.4h-3.4zM161.4 10.5h3.4v3.4h-3.4zM164.9 10.5h3.4v3.4h-3.4zM154.4 14.0h3.4v3.4h-3.4zM154.4 17.5h3.4v3.4h-3.4zM168.4 14.0h3.4v3.4h-3.4zM168.4 17.5h3.4v3.4h-3.4zM157.9 21.0h3.4v3.4h-3.4zM161.4 21.0h3.4v3.4h-3.4zM164.9 21.0h3.4v3.4h-3.4zM179.9 0.0h3.4v3.4h-3.4zM183.4 0.0h3.4v3.4h-3.4zM186.9 0.0h3.4v3.4h-3.4zM190.4 3.5h3.4v3.4h-3.4zM190.4 7.0h3.4v3.4h-3.4zM179.9 10.5h3.4v3.4h-3.4zM183.4 10.5h3.4v3.4h-3.4zM186.9 10.5h3.4v3.4h-3.4zM176.4 14.0h3.4v3.4h-3.4zM176.4 17.5h3.4v3.4h-3.4zM190.4 14.0h3.4v3.4h-3.4zM190.4 17.5h3.4v3.4h-3.4zM179.9 21.0h3.4v3.4h-3.4zM183.4 21.0h3.4v3.4h-3.4zM186.9 21.0h3.4v3.4h-3.4zM190.4 21.0h3.4v3.4h-3.4z"/>
</g>
<line x1="-330" y1="769" x2="4.347826086956559" y2="0" stroke="#c2d4ff" stroke-width="0.75" opacity="0.3"/>
<line x1="-297" y1="769" x2="37.34782608695656" y2="0" stroke="#c2d4ff" stroke-width="0.75" opacity="0.3"/>
<line x1="-264" y1="769" x2="70.34782608695656" y2="0" stroke="#c2d4ff" stroke-width="0.75" opacity="0.55"/>
<line x1="-231" y1="769" x2="103.34782608695656" y2="0" stroke="#c2d4ff" stroke-width="0.75" opacity="0.55"/>
<line x1="-198" y1="769" x2="136.34782608695656" y2="0" stroke="#c2d4ff" stroke-width="0.75" opacity="0.42"/>
<line x1="-165" y1="769" x2="169.34782608695656" y2="0" stroke="#c2d4ff" stroke-width="0.75" opacity="0.55"/>
<line x1="-132" y1="769" x2="202.34782608695656" y2="0" stroke="#c2d4ff" stroke-width="0.75" opacity="0.55"/>
<line x1="-99" y1="769" x2="235.34782608695656" y2="0" stroke="#c2d4ff" stroke-width="0.75" opacity="0.55"/>
<line x1="-66" y1="769" x2="268.34782608695656" y2="0" stroke="#c2d4ff" stroke-width="0.75" opacity="0.42"/>
<line x1="-33" y1="769" x2="301.34782608695656" y2="0" stroke="#c2d4ff" stroke-width="0.75" opacity="0.55"/>
<line x1="0" y1="769" x2="334.34782608695656" y2="0" stroke="#c2d4ff" stroke-width="0.75" opacity="0.55"/>
<line x1="33" y1="769" x2="367.34782608695656" y2="0" stroke="#c2d4ff" stroke-width="0.75" opacity="0.55"/>
<line x1="66" y1="769" x2="400.34782608695656" y2="0" stroke="#c2d4ff" stroke-width="0.75" opacity="0.42"/>
<line x1="0" y1="-30" x2="73" y2="29.86" stroke="#c2d4ff" stroke-width="0.75" opacity="0.3"/>
<line x1="0" y1="16" x2="73" y2="75.1461378413524" stroke="#c2d4ff" stroke-width="0.75" opacity="0.3"/>
<line x1="0" y1="62" x2="73" y2="119.09378413524057" stroke="#c2d4ff" stroke-width="0.75" opacity="0.3"/>
<line x1="0" y1="108" x2="73" y2="163.04143042912872" stroke="#c2d4ff" stroke-width="0.75" opacity="0.3"/>
<line x1="0" y1="154" x2="73" y2="206.9890767230169" stroke="#c2d4ff" stroke-width="0.75" opacity="0.3"/>
<line x1="0" y1="200" x2="73" y2="250.93672301690506" stroke="#c2d4ff" stroke-width="0.75" opacity="0.58"/>
<line x1="0" y1="246" x2="73" y2="294.88436931079326" stroke="#c2d4ff" stroke-width="0.75" opacity="0.3"/>
<line x1="0" y1="292" x2="73" y2="338.83201560468143" stroke="#c2d4ff" stroke-width="0.75" opacity="0.42"/>
<line x1="0" y1="338" x2="73" y2="382.77966189856954" stroke="#c2d4ff" stroke-width="0.75" opacity="0.3"/>
<line x1="0" y1="384" x2="73" y2="426.7273081924577" stroke="#c2d4ff" stroke-width="0.75" opacity="0.3"/>
<line x1="0" y1="430" x2="73" y2="470.6749544863459" stroke="#c2d4ff" stroke-width="0.75" opacity="0.3"/>
<line x1="0" y1="476" x2="73" y2="514.622600780234" stroke="#c2d4ff" stroke-width="0.75" opacity="0.3"/>
<line x1="0" y1="522" x2="73" y2="558.5702470741222" stroke="#c2d4ff" stroke-width="0.75" opacity="0.3"/>
<line x1="0" y1="568" x2="73" y2="602.5178933680104" stroke="#c2d4ff" stroke-width="0.75" opacity="0.3"/>
<line x1="0" y1="614" x2="73" y2="646.4655396618986" stroke="#c2d4ff" stroke-width="0.75" opacity="0.58"/>
<line x1="0" y1="660" x2="73" y2="690.4131859557867" stroke="#c2d4ff" stroke-width="0.75" opacity="0.58"/>
<line x1="0" y1="706" x2="73" y2="734.3608322496749" stroke="#c2d4ff" stroke-width="0.75" opacity="0.58"/>
<line x1="0" y1="752" x2="73" y2="778.3084785435631" stroke="#c2d4ff" stroke-width="0.75" opacity="0.3"/>
<line x1="0" y1="10" x2="73" y2="30.44" stroke="#c2d4ff" stroke-width="0.6" opacity="0.2"/>
<line x1="0" y1="125" x2="73" y2="145.44" stroke="#c2d4ff" stroke-width="0.6" opacity="0.2"/>
<line x1="0" y1="240" x2="73" y2="260.44" stroke="#c2d4ff" stroke-width="0.6" opacity="0.2"/>
<line x1="0" y1="355" x2="73" y2="375.44" stroke="#c2d4ff" stroke-width="0.6" opacity="0.2"/>
<line x1="0" y1="470" x2="73" y2="490.44" stroke="#c2d4ff" stroke-width="0.6" opacity="0.2"/>
<line x1="0" y1="585" x2="73" y2="605.44" stroke="#c2d4ff" stroke-width="0.6" opacity="0.2"/>
<line x1="0" y1="700" x2="73" y2="720.44" stroke="#c2d4ff" stroke-width="0.6" opacity="0.2"/>
</svg>
<svg id="bgR" class="abs" width="48" height="769" viewBox="976 111 48 769">
<defs>
<linearGradient id="rg1" x1="0" y1="0" x2="0" y2="1">
<stop offset="0" stop-color="#1b1f3c"/><stop offset="0.3" stop-color="#1c2346"/><stop offset="0.6" stop-color="#1e294e"/><stop offset="0.85" stop-color="#1d2848"/><stop offset="1" stop-color="#20283c"/>
</linearGradient>
<filter id="rb4" x="-50%" y="-50%" width="200%" height="200%"><feGaussianBlur stdDeviation="3.5"/></filter>
<filter id="rb2" x="-50%" y="-50%" width="200%" height="200%"><feGaussianBlur stdDeviation="1.6"/></filter>
<filter id="rb1" x="-50%" y="-50%" width="200%" height="200%"><feGaussianBlur stdDeviation="0.8"/></filter>
</defs>
<rect x="976" y="111" width="48" height="769" fill="url(#rg1)"/>
<line x1="970" y1="249" x2="1030" y2="192" stroke="#c64e6e" stroke-width="7" opacity="0.8" filter="url(#rb2)"/>
<line x1="960" y1="716" x2="1040" y2="664" stroke="#2a7fc0" stroke-width="40" opacity="0.55" filter="url(#rb4)"/>
<line x1="960" y1="714" x2="1040" y2="662" stroke="#48c4cc" stroke-width="19" opacity="0.95" filter="url(#rb4)"/>
<ellipse cx="1026" cy="808" rx="7" ry="30" fill="#2a4cc0" opacity="0.6" filter="url(#rb4)"/>
<line x1="976" y1="164.5" x2="1024" y2="158" stroke="#b8c4e0" stroke-width="0.9" opacity="0.55"/>
<line x1="976" y1="226" x2="1024" y2="221" stroke="#b8c4e0" stroke-width="0.9" opacity="0.55"/>
<line x1="976" y1="358" x2="1024" y2="352" stroke="#b8c4e0" stroke-width="0.9" opacity="0.55"/>
<line x1="976" y1="391" x2="1024" y2="387.5" stroke="#b8c4e0" stroke-width="0.9" opacity="0.55"/>
<line x1="976" y1="467" x2="1024" y2="466" stroke="#b8c4e0" stroke-width="0.9" opacity="0.55"/>
<line x1="976" y1="589" x2="1024" y2="590" stroke="#b8c4e0" stroke-width="0.9" opacity="0.55"/>
<line x1="976" y1="726" x2="1024" y2="730" stroke="#b8c4e0" stroke-width="0.9" opacity="0.55"/>
<line x1="976" y1="826" x2="1024" y2="832" stroke="#b8c4e0" stroke-width="0.9" opacity="0.55"/>
<line x1="1021" y1="600" x2="1009" y2="880" stroke="#a8b8dc" stroke-width="1.1" opacity="0.7"/>
<g fill="#e2ecf0" filter="url(#rb1)">
<rect x="981.0" y="253.0" width="5.3" height="6.2"/>
<rect x="986.7" y="252.4" width="5.3" height="6.2"/>
<rect x="992.4" y="251.8" width="5.3" height="6.2"/>
<rect x="998.1" y="251.2" width="5.3" height="6.2"/>
<rect x="1003.8" y="250.6" width="5.3" height="6.2"/>
<rect x="1003.3" y="258.8" width="5.3" height="6.2"/>
<rect x="1002.8" y="267.0" width="5.3" height="6.2"/>
<rect x="985.2" y="277.0" width="5.3" height="6.2"/>
<rect x="990.9" y="276.4" width="5.3" height="6.2"/>
<rect x="996.6" y="275.8" width="5.3" height="6.2"/>
<rect x="979.0" y="285.8" width="5.3" height="6.2"/>
<rect x="978.5" y="294.0" width="5.3" height="6.2"/>
<rect x="978.0" y="302.2" width="5.3" height="6.2"/>
<rect x="983.7" y="301.6" width="5.3" height="6.2"/>
<rect x="989.4" y="301.0" width="5.3" height="6.2"/>
<rect x="995.1" y="300.4" width="5.3" height="6.2"/>
<rect x="1000.8" y="299.8" width="5.3" height="6.2"/>
<rect x="1021.5" y="252" width="4" height="5.6"/><rect x="1021" y="301" width="4" height="5.6"/>
</g>
<ellipse cx="1006" cy="321" rx="7" ry="4" fill="#9fb4c8" opacity="0.45" filter="url(#rb2)"/>
<ellipse cx="997" cy="471" rx="8" ry="4.5" fill="#9fb4c8" opacity="0.4" filter="url(#rb2)"/>
<ellipse cx="990" cy="643" rx="9" ry="6" fill="#9fb4c8" opacity="0.55" filter="url(#rb2)"/>
<ellipse cx="981" cy="840" rx="5" ry="6" fill="#9fb4c8" opacity="0.5" filter="url(#rb2)"/>
<ellipse cx="993" cy="870" rx="8" ry="5" fill="#9fb4c8" opacity="0.5" filter="url(#rb2)"/>
<ellipse cx="980" cy="343" rx="3" ry="3" fill="#9fb4c8" opacity="0.25" filter="url(#rb2)"/>
</svg>

<div id="top" class="abs"></div>
<div id="bot" class="abs"></div>
<div id="panel" class="abs"></div>
<div id="title" class="abs"><span class="w" id="w1">30</span> <span class="w" id="w2">DE</span> <span class="w" id="w3">NOVIEMBRE</span> <span class="w" id="w4">DE</span> <span class="w" id="w5">2022</span></div>
<div id="hash" class="abs">#CierreDelDía</div>
<div id="side" class="abs"></div>
<svg class="abs" style="left:32px;top:357px;" width="141" height="309" viewBox="32 357 141 309">
<polygon points="71.8,417.7 46.2,463.3 97.7,463.3" fill="#155b3b"/>
<polygon points="47,495.6 96.8,495.6 71.8,540.9" fill="#d43436"/>
<rect x="53.2" y="574.7" width="36.7" height="8" rx="1.6" fill="#7295c5"/>
<rect x="53.2" y="590.5" width="36.7" height="8" rx="1.6" fill="#7295c5"/>
</svg>
<div class="num" style="left:104.5px;top:418px;font-size:42px;transform:scaleX(0.95);transform-origin:0 0;">13</div>
<div class="num" style="left:113.2px;top:494px;font-size:43.5px;transform:scaleX(1.18);transform-origin:0 0;">0</div>
<div class="num" style="left:113.6px;top:559.5px;font-size:43px;transform:scaleX(1.09);transform-origin:0 0;">9</div>

<div class="h" style="left:176.5px;top:195.3px;">Simbolo</div>
<div class="h" style="left:391px;top:189.3px;">Precio Cierre (Bs.)</div>
<div class="h" style="left:346px;top:216.8px;">Anterior</div>
<div class="h" style="left:550.5px;top:217px;">Hoy</div>
<div class="h" style="left:698.5px;top:178.5px;">Var</div>
<div class="h" style="left:704.5px;top:205.5px;">Abs</div>
<div class="h" style="left:855px;top:178.5px;">Var</div>
<div class="h" style="left:832.5px;top:205.7px;">Rel. %</div>

<div id="rule" class="abs"></div>
<table id="data" class="t" style="left:174.0px;top:249px;width:723.0px"><colgroup><col style="width:156.0px"><col style="width:104.0px"><col style="width:165.7px"><col style="width:155.8px"><col style="width:141.5px"></colgroup><tbody>
<tr><td class="s"><span>BPV</span></td><td><span>4.20</span></td><td><span style="top:4.3px">4.20</span></td><td><span style="top:3px">0.00</span></td><td><span>0.00</span></td></tr>
<tr><td class="s"><span>BNC</span></td><td><span>0.053</span></td><td><span style="top:4.3px">0.055</span></td><td><span style="top:3px">0.00</span></td><td><span>3.77</span></td></tr>
<tr><td class="s"><span>BVCC</span></td><td><span>0.64</span></td><td><span style="top:4.3px">0.666</span></td><td><span style="top:3px">0.03</span></td><td><span>4.06</span></td></tr>
<tr><td class="s"><span>TDV.D</span></td><td><span>3.50</span></td><td><span style="top:4.3px">3.50</span></td><td><span style="top:3px">0.00</span></td><td><span>0.00</span></td></tr>
<tr><td class="s"><span>CRM.A</span></td><td><span>1.55</span></td><td><span style="top:4.3px">1.55</span></td><td><span style="top:3px">0.00</span></td><td><span>0.00</span></td></tr>
<tr><td class="s"><span>CIE</span></td><td><span>0.09</span></td><td><span style="top:4.3px">0.09</span></td><td><span style="top:3px">0.00</span></td><td><span>0.00</span></td></tr>
<tr><td class="s"><span>DOM</span></td><td><span>4.60</span></td><td><span style="top:4.3px">4.69</span></td><td><span style="top:3px">0.09</span></td><td><span>1.96</span></td></tr>
<tr><td class="s"><span>ENV</span></td><td><span>2.80</span></td><td><span style="top:4.3px">2.90</span></td><td><span style="top:3px">0.10</span></td><td><span>3.57</span></td></tr>
<tr><td class="s"><span>FVI.A</span></td><td><span>13.00</span></td><td><span style="top:4.3px">15.00</span></td><td><span style="top:3px">2.00</span></td><td><span>15.38</span></td></tr>
<tr><td class="s"><span>FVI.B</span></td><td><span>5.50</span></td><td><span style="top:4.3px">5.90</span></td><td><span style="top:3px">0.40</span></td><td><span>7.27</span></td></tr>
<tr><td class="s"><span>GZL</span></td><td><span>8.60</span></td><td><span style="top:4.3px">10.30</span></td><td><span style="top:3px">1.70</span></td><td><span>19.77</span></td></tr>
<tr><td class="s"><span>ICP.B</span></td><td><span>0.61</span></td><td><span style="top:4.3px">0.61</span></td><td><span style="top:3px">0.00</span></td><td><span>0.00</span></td></tr>
<tr><td class="s"><span>IVC</span></td><td><span>9.50</span></td><td><span style="top:4.3px">9.50</span></td><td><span style="top:3px">0.00</span></td><td><span>0.00</span></td></tr>
<tr><td class="s"><span>MPA</span></td><td><span>0.799</span></td><td><span style="top:4.3px">0.799</span></td><td><span style="top:3px">0.00</span></td><td><span>0.00</span></td></tr>
<tr><td class="s"><span>MVZ.A</span></td><td><span>12.50</span></td><td><span style="top:4.3px">14.00</span></td><td><span style="top:3px">1.50</span></td><td><span>12.00</span></td></tr>
<tr><td class="s"><span>MVZ.B</span></td><td><span>11.75</span></td><td><span style="top:4.3px">12.50</span></td><td><span style="top:3px">0.75</span></td><td><span>6.38</span></td></tr>
<tr><td class="s"><span>PGR</span></td><td><span>0.245</span></td><td><span style="top:4.3px">0.245</span></td><td><span style="top:3px">0.00</span></td><td><span>0.00</span></td></tr>
<tr><td class="s"><span>RST.B</span></td><td><span>1.77</span></td><td><span style="top:4.3px">2.00</span></td><td><span style="top:3px">0.23</span></td><td><span>12.99</span></td></tr>
<tr><td class="s"><span>RST</span></td><td><span>3.00</span></td><td><span style="top:4.3px">3.20</span></td><td><span style="top:3px">0.20</span></td><td><span>6.67</span></td></tr>
<tr><td class="s"><span>SVS</span></td><td><span>0.834</span></td><td><span style="top:4.3px">0.838</span></td><td><span style="top:3px">0.00</span></td><td><span>0.48</span></td></tr>
<tr><td class="s"><span>TPG</span></td><td><span>0.056</span></td><td><span style="top:4.3px">0.056</span></td><td><span style="top:3px">0.00</span></td><td><span>0.00</span></td></tr>
</tbody></table>
<svg id="logo" class="abs" style="left:840px;top:8px;" width="176" height="172" viewBox="840 8 176 172" font-family="'Liberation Serif',serif">
<defs>
<linearGradient id="ringG" x1="0.1" y1="0.05" x2="0.9" y2="0.95">
<stop offset="0" stop-color="#e9dcc0"/><stop offset="0.25" stop-color="#e0cba6"/><stop offset="0.5" stop-color="#d4bb92"/><stop offset="0.75" stop-color="#e6d6b6"/><stop offset="1" stop-color="#efe4cc"/>
</linearGradient>
<linearGradient id="rimG" x1="0" y1="0" x2="1" y2="1">
<stop offset="0" stop-color="#d9c7a4"/><stop offset="0.5" stop-color="#bfa47c"/><stop offset="1" stop-color="#d6c29c"/>
</linearGradient>
<linearGradient id="ribG" x1="0" y1="170" x2="0" y2="60" gradientUnits="userSpaceOnUse">
<stop offset="0" stop-color="#a5773f"/><stop offset="0.45" stop-color="#a37640" stop-opacity="1"/><stop offset="0.62" stop-color="#a07a42" stop-opacity="0.8"/><stop offset="1" stop-color="#a88448" stop-opacity="0.5"/>
</linearGradient>
<clipPath id="discClip"><circle cx="916.5" cy="82.8" r="40.2"/></clipPath>
<path id="arcTop" d="M 870.79,80.00 A 45.8,45.8 0 1 1 961.60,90.75"/>
<path id="arcBot" d="M 872.45,115.40 A 54.8,54.8 0 0 0 968.00,101.54"/>
<path id="arcRib" d="M 884.96,151.78 A 76.3,76.3 0 0 0 993.63,67.64"/>
</defs>
<!-- ribbon -->
<path d="M870.3,147.9 A80.5,80.5 0 0 0 962.5,155.6 A80,80 0 0 0 1000.3,72.5 L991.5,76.2 L982,74.5 L975,84 A60,60 0 0 1 880,138 Z" fill="url(#ribG)"/>
<text font-size="17.5" fill="#fbf4e6" stroke="#fbf4e6" stroke-width="0.4"><textPath href="#arcRib" startOffset="0" textLength="157" lengthAdjust="spacing">75 ANIVERS<tspan fill="#c08a4a" stroke="#c08a4a">A</tspan><tspan fill="#b89c50" stroke="#b89c50">RIO</tspan></textPath></text>
<!-- medal -->
<circle cx="916.5" cy="82.8" r="63.6" fill="url(#rimG)"/>
<circle cx="916.5" cy="82.8" r="60.7" fill="#2b261c"/>
<circle cx="916.5" cy="82.8" r="59.2" fill="url(#ringG)"/>
<circle cx="916.5" cy="82.8" r="43.4" fill="#33291c"/>
<circle cx="916.5" cy="82.8" r="41.9" fill="#d9c6a0"/>
<circle cx="916.5" cy="82.8" r="40.2" fill="#c4a67a"/>
<g clip-path="url(#discClip)">
<rect x="870" y="40" width="95" height="90" fill="#c9ad82"/>
<rect x="870" y="84" width="95" height="14" fill="#bfa076"/>
<path d="M870,104 L880,99 L912,98 L923,98 L957,96 L965,96 L965,130 L870,130Z" fill="#4a3a2a"/>
<path d="M879.5,100 L896.9,86.2 L908,92.5 L912,95 L912,121 L879.5,121Z" fill="#3e2e22"/>
<path d="M881,100.5 L896.9,88 L907,93.5" fill="none" stroke="#c8ad84" stroke-width="1"/>
<path d="M884,101 L896.5,91 L905,95.5" fill="none" stroke="#2c2018" stroke-width="0.8"/>
<rect x="892.3" y="95.7" width="12.9" height="11.1" fill="#d9c49c" stroke="#2e2218" stroke-width="0.7"/>
<circle cx="898.7" cy="99.6" r="2.3" fill="none" stroke="#2a2a1e" stroke-width="1.1"/>
<path d="M898.7,102 V106.5 M896.8,104.4 H900.6" stroke="#2a2a1e" stroke-width="1" fill="none"/>
<rect x="881.5" y="103.4" width="1.3" height="15.6" fill="#7c664a" opacity="0.7"/>
<rect x="884.5" y="102.6" width="1.3" height="16.4" fill="#7c664a" opacity="0.7"/>
<rect x="887.5" y="101.8" width="1.3" height="17.2" fill="#7c664a" opacity="0.7"/>
<rect x="890.5" y="101.0" width="1.3" height="18.0" fill="#7c664a" opacity="0.7"/>
<rect x="893.5" y="108.5" width="1.4" height="10.5" fill="#836a4e" opacity="0.7"/>
<rect x="896.5" y="108.5" width="1.4" height="10.5" fill="#836a4e" opacity="0.7"/>
<rect x="899.5" y="108.5" width="1.4" height="10.5" fill="#836a4e" opacity="0.7"/>
<rect x="902.5" y="108.5" width="1.4" height="10.5" fill="#836a4e" opacity="0.7"/>
<rect x="905.8" y="108.5" width="1.4" height="10.5" fill="#836a4e" opacity="0.7"/>
<rect x="908.8" y="108.5" width="1.4" height="10.5" fill="#836a4e" opacity="0.7"/>
<rect x="880" y="107.3" width="32" height="0.9" fill="#b89e78" opacity="0.7"/>
<rect x="880" y="113.5" width="32" height="0.8" fill="#2a1e16" opacity="0.8"/>
<rect x="905.8" y="96" width="5.5" height="10.5" fill="#3a2c20"/>
<rect x="907" y="97.5" width="1.2" height="8" fill="#a89070"/><rect x="909.4" y="97.5" width="1.2" height="8" fill="#a89070"/>
<path d="M923.5,92 L934,92 L936,88 L952,88 L957,93 L958,121 L923.5,121Z" fill="#3c2c20"/>
<path d="M924.7,93 L925.5,89.5 L927.5,88.5 L929,90.3 L931,88.6 L933,90 L934.2,93Z" fill="#efe8d6"/>
<path d="M936.6,93.8 L937,86.8 L939.5,85.4 L943.5,85.6 L944,88.3 L947.5,88.4 L950.5,90 L952,93.8Z" fill="#efe8d6"/>
<rect x="953" y="89.5" width="3.5" height="4" fill="#d9c9a8"/>
<rect x="924.5" y="93.8" width="1.5" height="4.8" fill="#b8a07a"/>
<rect x="927.4" y="93.8" width="1.5" height="4.8" fill="#b8a07a"/>
<rect x="930.3" y="93.8" width="1.5" height="4.8" fill="#b8a07a"/>
<rect x="933.2" y="93.8" width="1.5" height="4.8" fill="#b8a07a"/>
<rect x="936.1" y="93.8" width="1.5" height="4.8" fill="#b8a07a"/>
<rect x="939.0" y="93.8" width="1.5" height="4.8" fill="#b8a07a"/>
<rect x="941.9" y="93.8" width="1.5" height="4.8" fill="#b8a07a"/>
<rect x="944.8" y="93.8" width="1.5" height="4.8" fill="#b8a07a"/>
<rect x="947.7" y="93.8" width="1.5" height="4.8" fill="#b8a07a"/>
<rect x="950.6" y="93.8" width="1.5" height="4.8" fill="#b8a07a"/>
<rect x="953.5" y="93.8" width="1.5" height="4.8" fill="#b8a07a"/>
<rect x="924" y="98.6" width="32.5" height="4.2" fill="#cdb78e"/>
<rect x="925.2" y="99.6" width="1.1" height="2.4" fill="#5a4634"/>
<rect x="928.1" y="99.6" width="1.1" height="2.4" fill="#5a4634"/>
<rect x="931.0" y="99.6" width="1.1" height="2.4" fill="#5a4634"/>
<rect x="933.9" y="99.6" width="1.1" height="2.4" fill="#5a4634"/>
<rect x="936.8" y="99.6" width="1.1" height="2.4" fill="#5a4634"/>
<rect x="939.7" y="99.6" width="1.1" height="2.4" fill="#5a4634"/>
<rect x="942.6" y="99.6" width="1.1" height="2.4" fill="#5a4634"/>
<rect x="945.5" y="99.6" width="1.1" height="2.4" fill="#5a4634"/>
<rect x="948.4" y="99.6" width="1.1" height="2.4" fill="#5a4634"/>
<rect x="951.3" y="99.6" width="1.1" height="2.4" fill="#5a4634"/>
<rect x="954.2" y="99.6" width="1.1" height="2.4" fill="#5a4634"/>
<rect x="924.8" y="104.2" width="1.4" height="3.6" fill="#8c7656"/>
<rect x="927.7" y="104.2" width="1.4" height="3.6" fill="#8c7656"/>
<rect x="930.6" y="104.2" width="1.4" height="3.6" fill="#8c7656"/>
<rect x="933.5" y="104.2" width="1.4" height="3.6" fill="#8c7656"/>
<rect x="936.4" y="104.2" width="1.4" height="3.6" fill="#8c7656"/>
<rect x="939.3" y="104.2" width="1.4" height="3.6" fill="#8c7656"/>
<rect x="942.2" y="104.2" width="1.4" height="3.6" fill="#8c7656"/>
<rect x="945.1" y="104.2" width="1.4" height="3.6" fill="#8c7656"/>
<rect x="948.0" y="104.2" width="1.4" height="3.6" fill="#8c7656"/>
<rect x="950.9" y="104.2" width="1.4" height="3.6" fill="#8c7656"/>
<rect x="953.8" y="104.2" width="1.4" height="3.6" fill="#8c7656"/>
<rect x="924" y="108.6" width="32.5" height="1.1" fill="#b09a74"/>
<rect x="925.0" y="111" width="1.6" height="6.5" fill="#7a6448" opacity="0.7"/>
<rect x="928.6" y="111" width="1.6" height="6.5" fill="#7a6448" opacity="0.7"/>
<rect x="932.2" y="111" width="1.6" height="6.5" fill="#7a6448" opacity="0.7"/>
<rect x="935.8" y="111" width="1.6" height="6.5" fill="#7a6448" opacity="0.7"/>
<rect x="939.4" y="111" width="1.6" height="6.5" fill="#7a6448" opacity="0.7"/>
<rect x="943.0" y="111" width="1.6" height="6.5" fill="#7a6448" opacity="0.7"/>
<rect x="946.6" y="111" width="1.6" height="6.5" fill="#7a6448" opacity="0.7"/>
<rect x="950.2" y="111" width="1.6" height="6.5" fill="#7a6448" opacity="0.7"/>
<rect x="953.8" y="111" width="1.6" height="6.5" fill="#7a6448" opacity="0.7"/>
<rect x="935" y="92" width="1.4" height="27" fill="#2a1e16"/>
<path d="M876,121 H958 V130 H876Z" fill="#3a2b1f"/>
<path d="M877.9,77.1C878.2,75.3 878.3,73.1 879.3,70.6C880.3,68.1 881.9,65.0 883.9,62.3C885.9,59.5 888.6,56.2 891.3,53.9C894.1,51.6 897.2,49.7 900.6,48.3C904.0,47.0 908.2,46.0 911.7,45.6C915.3,45.1 918.4,45.1 921.9,45.6C925.5,46.0 929.7,47.0 933.1,48.3C936.5,49.7 939.6,51.6 942.4,53.9C945.1,56.2 947.6,59.3 949.8,62.3C951.9,65.2 954.2,68.6 955.3,71.5C956.5,74.5 956.7,77.3 956.7,79.9C956.8,82.5 956.7,85.8 955.8,87.3C955.0,88.9 952.9,89.3 951.6,89.2C950.3,89.0 949.5,87.0 947.9,86.4C946.4,85.8 944.2,85.8 942.4,85.5C940.5,85.1 938.3,84.1 936.8,84.5C935.2,85.0 934.3,88.1 933.1,88.2C931.8,88.4 930.6,86.7 929.4,85.5C928.1,84.2 927.2,81.9 925.7,80.8C924.1,79.7 922.1,79.0 920.1,79.0C918.1,79.0 915.8,80.0 913.6,80.8C911.4,81.6 909.3,83.0 907.1,83.6C904.9,84.2 902.8,84.2 900.6,84.5C898.4,84.8 896.1,84.8 894.1,85.5C892.1,86.1 890.4,87.4 888.6,88.2C886.7,89.1 884.6,90.7 883.0,90.6C881.4,90.4 879.7,88.8 878.8,87.3C877.9,85.8 877.6,83.4 877.4,81.7C877.3,80.0 877.6,79.0 877.9,77.1Z" fill="#18342b"/>
<circle cx="877.6" cy="77.2" r="2.0" fill="#18342b"/>
<circle cx="878.5" cy="75.1" r="1.7" fill="#18342b"/>
<circle cx="878.2" cy="73.2" r="1.9" fill="#18342b"/>
<circle cx="879.0" cy="71.2" r="2.1" fill="#18342b"/>
<circle cx="881.2" cy="67.8" r="2.2" fill="#18342b"/>
<circle cx="881.9" cy="65.3" r="2.5" fill="#18342b"/>
<circle cx="883.9" cy="62.6" r="2.3" fill="#18342b"/>
<circle cx="885.8" cy="59.8" r="2.2" fill="#18342b"/>
<circle cx="888.6" cy="56.2" r="2.5" fill="#18342b"/>
<circle cx="891.3" cy="54.2" r="2.5" fill="#18342b"/>
<circle cx="894.7" cy="52.6" r="2.0" fill="#18342b"/>
<circle cx="897.8" cy="50.2" r="2.5" fill="#18342b"/>
<circle cx="901.1" cy="47.9" r="1.7" fill="#18342b"/>
<circle cx="903.9" cy="48.0" r="2.0" fill="#18342b"/>
<circle cx="908.1" cy="46.3" r="2.1" fill="#18342b"/>
<circle cx="911.6" cy="45.4" r="2.2" fill="#18342b"/>
<circle cx="915.2" cy="46.1" r="2.3" fill="#18342b"/>
<circle cx="919.0" cy="46.0" r="2.6" fill="#18342b"/>
<circle cx="922.2" cy="45.2" r="2.5" fill="#18342b"/>
<circle cx="926.2" cy="47.0" r="2.2" fill="#18342b"/>
<circle cx="929.6" cy="47.1" r="2.4" fill="#18342b"/>
<circle cx="933.2" cy="48.1" r="1.7" fill="#18342b"/>
<circle cx="936.6" cy="50.8" r="1.7" fill="#18342b"/>
<circle cx="939.6" cy="51.9" r="1.8" fill="#18342b"/>
<circle cx="942.1" cy="54.2" r="2.5" fill="#18342b"/>
<circle cx="944.3" cy="56.8" r="1.6" fill="#18342b"/>
<circle cx="947.5" cy="59.2" r="2.5" fill="#18342b"/>
<circle cx="950.4" cy="62.3" r="2.6" fill="#18342b"/>
<circle cx="951.4" cy="64.8" r="2.2" fill="#18342b"/>
<circle cx="952.9" cy="68.0" r="2.0" fill="#18342b"/>
<circle cx="955.5" cy="71.1" r="1.6" fill="#18342b"/>
<circle cx="956.2" cy="74.1" r="2.6" fill="#18342b"/>
<circle cx="956.7" cy="76.9" r="2.1" fill="#18342b"/>
<circle cx="956.8" cy="80.1" r="2.2" fill="#18342b"/>
<circle cx="956.5" cy="82.5" r="2.5" fill="#18342b"/>
<circle cx="956.1" cy="84.7" r="2.3" fill="#18342b"/>
<circle cx="955.5" cy="87.1" r="2.6" fill="#18342b"/>
<circle cx="954.5" cy="88.0" r="1.6" fill="#18342b"/>
<circle cx="953.0" cy="88.6" r="1.6" fill="#18342b"/>
<circle cx="951.8" cy="89.3" r="1.7" fill="#18342b"/>
<circle cx="950.6" cy="88.2" r="2.3" fill="#18342b"/>
<circle cx="949.0" cy="87.6" r="2.3" fill="#18342b"/>
<circle cx="947.3" cy="85.9" r="2.3" fill="#18342b"/>
<circle cx="946.6" cy="85.8" r="2.1" fill="#18342b"/>
<circle cx="944.4" cy="85.6" r="2.0" fill="#18342b"/>
<circle cx="942.1" cy="85.3" r="2.2" fill="#18342b"/>
<circle cx="940.3" cy="85.0" r="2.4" fill="#18342b"/>
<circle cx="938.1" cy="84.9" r="2.3" fill="#18342b"/>
<circle cx="936.6" cy="84.2" r="2.4" fill="#18342b"/>
<circle cx="935.3" cy="85.4" r="2.0" fill="#18342b"/>
<circle cx="934.6" cy="86.5" r="1.9" fill="#18342b"/>
<circle cx="932.9" cy="88.6" r="2.0" fill="#18342b"/>
<circle cx="932.3" cy="86.9" r="1.9" fill="#18342b"/>
<circle cx="930.8" cy="86.9" r="2.1" fill="#18342b"/>
<circle cx="929.0" cy="85.0" r="2.1" fill="#18342b"/>
<circle cx="927.8" cy="84.3" r="2.4" fill="#18342b"/>
<circle cx="926.5" cy="82.1" r="2.4" fill="#18342b"/>
<circle cx="925.8" cy="81.2" r="1.9" fill="#18342b"/>
<circle cx="923.4" cy="80.0" r="2.4" fill="#18342b"/>
<circle cx="921.7" cy="79.4" r="2.0" fill="#18342b"/>
<circle cx="920.0" cy="78.9" r="2.5" fill="#18342b"/>
<circle cx="917.5" cy="79.0" r="2.5" fill="#18342b"/>
<circle cx="916.3" cy="80.8" r="2.0" fill="#18342b"/>
<circle cx="914.1" cy="81.3" r="1.8" fill="#18342b"/>
<circle cx="911.8" cy="82.1" r="2.3" fill="#18342b"/>
<circle cx="909.3" cy="82.4" r="1.9" fill="#18342b"/>
<circle cx="906.8" cy="83.1" r="2.2" fill="#18342b"/>
<circle cx="904.7" cy="84.3" r="1.6" fill="#18342b"/>
<circle cx="903.3" cy="84.4" r="2.5" fill="#18342b"/>
<circle cx="901.1" cy="85.0" r="2.2" fill="#18342b"/>
<circle cx="897.9" cy="85.1" r="1.8" fill="#18342b"/>
<circle cx="896.1" cy="85.3" r="2.1" fill="#18342b"/>
<circle cx="894.0" cy="86.0" r="2.2" fill="#18342b"/>
<circle cx="892.1" cy="86.1" r="2.5" fill="#18342b"/>
<circle cx="890.4" cy="87.6" r="2.0" fill="#18342b"/>
<circle cx="888.2" cy="88.3" r="2.4" fill="#18342b"/>
<circle cx="886.3" cy="89.4" r="2.5" fill="#18342b"/>
<circle cx="885.2" cy="90.2" r="1.6" fill="#18342b"/>
<circle cx="883.1" cy="91.0" r="1.6" fill="#18342b"/>
<circle cx="881.3" cy="89.2" r="2.1" fill="#18342b"/>
<circle cx="880.1" cy="88.4" r="2.4" fill="#18342b"/>
<circle cx="878.2" cy="86.8" r="1.7" fill="#18342b"/>
<circle cx="877.9" cy="85.0" r="2.6" fill="#18342b"/>
<circle cx="878.3" cy="83.1" r="2.1" fill="#18342b"/>
<circle cx="877.2" cy="81.5" r="2.0" fill="#18342b"/>
<circle cx="877.8" cy="80.3" r="2.0" fill="#18342b"/>
<circle cx="877.4" cy="78.5" r="1.7" fill="#18342b"/>
<circle cx="888.4" cy="60.1" r="0.7" fill="#2c5242" opacity="0.6"/>
<circle cx="909.6" cy="68.3" r="0.7" fill="#2c5242" opacity="0.6"/>
<circle cx="926.5" cy="74.4" r="0.7" fill="#2c5242" opacity="0.6"/>
<circle cx="891.8" cy="55.8" r="0.7" fill="#2c5242" opacity="0.6"/>
<circle cx="893.5" cy="75.4" r="0.7" fill="#2c5242" opacity="0.6"/>
<circle cx="900.1" cy="57.2" r="0.7" fill="#2c5242" opacity="0.6"/>
<circle cx="899.4" cy="73.6" r="0.7" fill="#2c5242" opacity="0.6"/>
<circle cx="910.2" cy="54.5" r="0.7" fill="#2c5242" opacity="0.6"/>
<circle cx="908.6" cy="54.2" r="0.7" fill="#2c5242" opacity="0.6"/>
<circle cx="917.8" cy="77.4" r="0.7" fill="#2c5242" opacity="0.6"/>
<circle cx="913.7" cy="60.7" r="0.7" fill="#2c5242" opacity="0.6"/>
<circle cx="896.1" cy="70.0" r="0.7" fill="#2c5242" opacity="0.6"/>
<circle cx="942.3" cy="53.7" r="0.7" fill="#2c5242" opacity="0.6"/>
<circle cx="893.0" cy="76.4" r="0.7" fill="#2c5242" opacity="0.6"/>
<circle cx="921.7" cy="56.6" r="0.7" fill="#2c5242" opacity="0.6"/>
<circle cx="904.7" cy="66.3" r="0.7" fill="#2c5242" opacity="0.6"/>
<circle cx="928.3" cy="52.2" r="0.7" fill="#2c5242" opacity="0.6"/>
<circle cx="941.3" cy="55.2" r="0.7" fill="#2c5242" opacity="0.6"/>
<circle cx="901.7" cy="52.3" r="0.7" fill="#2c5242" opacity="0.6"/>
<circle cx="906.4" cy="62.9" r="0.7" fill="#2c5242" opacity="0.6"/>
<circle cx="914.9" cy="64.4" r="0.7" fill="#2c5242" opacity="0.6"/>
<circle cx="936.6" cy="76.7" r="0.7" fill="#2c5242" opacity="0.6"/>
<circle cx="927.5" cy="66.4" r="0.7" fill="#2c5242" opacity="0.6"/>
<circle cx="944.4" cy="74.3" r="0.7" fill="#2c5242" opacity="0.6"/>
<circle cx="919.4" cy="67.4" r="0.7" fill="#2c5242" opacity="0.6"/>
<circle cx="923.8" cy="60.0" r="0.7" fill="#2c5242" opacity="0.6"/>
<circle cx="933.4" cy="53.4" r="0.7" fill="#2c5242" opacity="0.6"/>
<circle cx="935.1" cy="50.8" r="0.7" fill="#2c5242" opacity="0.6"/>
<circle cx="888.7" cy="57.8" r="0.7" fill="#2c5242" opacity="0.6"/>
<circle cx="947.7" cy="68.4" r="0.7" fill="#2c5242" opacity="0.6"/>
<circle cx="886.6" cy="64.0" r="0.7" fill="#2c5242" opacity="0.6"/>
<circle cx="941.4" cy="74.1" r="0.7" fill="#2c5242" opacity="0.6"/>
<circle cx="925.2" cy="63.3" r="0.7" fill="#2c5242" opacity="0.6"/>
<circle cx="904.8" cy="76.4" r="0.7" fill="#2c5242" opacity="0.6"/>
<circle cx="925.3" cy="57.6" r="0.7" fill="#2c5242" opacity="0.6"/>
<circle cx="924.7" cy="72.7" r="0.7" fill="#2c5242" opacity="0.6"/>
<circle cx="893.7" cy="55.2" r="0.7" fill="#2c5242" opacity="0.6"/>
<circle cx="899.9" cy="71.4" r="0.7" fill="#2c5242" opacity="0.6"/>
<circle cx="900.0" cy="71.1" r="0.7" fill="#2c5242" opacity="0.6"/>
<circle cx="908.0" cy="67.4" r="0.7" fill="#2c5242" opacity="0.6"/>
<circle cx="881.5" cy="65.0" r="0.7" fill="#2c5242" opacity="0.6"/>
<circle cx="890.4" cy="72.7" r="0.7" fill="#2c5242" opacity="0.6"/>
<circle cx="932.9" cy="77.0" r="0.7" fill="#2c5242" opacity="0.6"/>
<circle cx="918.1" cy="51.1" r="0.7" fill="#2c5242" opacity="0.6"/>
<circle cx="892.1" cy="63.7" r="0.7" fill="#2c5242" opacity="0.6"/>
<circle cx="895.8" cy="52.4" r="0.7" fill="#2c5242" opacity="0.6"/>
<circle cx="923.6" cy="69.2" r="0.7" fill="#2c5242" opacity="0.6"/>
<circle cx="916.6" cy="48.7" r="0.7" fill="#2c5242" opacity="0.6"/>
<circle cx="893.2" cy="63.8" r="0.7" fill="#2c5242" opacity="0.6"/>
<circle cx="914.0" cy="57.8" r="0.7" fill="#2c5242" opacity="0.6"/>
<circle cx="915.3" cy="72.5" r="0.7" fill="#2c5242" opacity="0.6"/>
<circle cx="899.7" cy="60.1" r="0.7" fill="#2c5242" opacity="0.6"/>
<circle cx="920.3" cy="79.0" r="0.7" fill="#2c5242" opacity="0.6"/>
<circle cx="935.7" cy="62.3" r="0.7" fill="#2c5242" opacity="0.6"/>
<circle cx="910.6" cy="54.5" r="0.7" fill="#2c5242" opacity="0.6"/>
<circle cx="933.7" cy="54.7" r="0.7" fill="#2c5242" opacity="0.6"/>
<circle cx="915.2" cy="72.9" r="0.7" fill="#2c5242" opacity="0.6"/>
<circle cx="941.7" cy="66.7" r="0.7" fill="#2c5242" opacity="0.6"/>
<circle cx="905.9" cy="69.7" r="0.7" fill="#2c5242" opacity="0.6"/>
<circle cx="903.9" cy="72.4" r="0.7" fill="#2c5242" opacity="0.6"/>
<circle cx="919.1" cy="58.6" r="0.7" fill="#2c5242" opacity="0.6"/>
<circle cx="941.9" cy="64.4" r="0.7" fill="#2c5242" opacity="0.6"/>
<circle cx="897.0" cy="58.2" r="0.7" fill="#2c5242" opacity="0.6"/>
<circle cx="933.5" cy="51.7" r="0.7" fill="#2c5242" opacity="0.6"/>
<circle cx="893.6" cy="60.9" r="0.7" fill="#2c5242" opacity="0.6"/>
<circle cx="910.9" cy="49.5" r="0.7" fill="#2c5242" opacity="0.6"/>
<circle cx="892.0" cy="73.5" r="0.7" fill="#2c5242" opacity="0.6"/>
<circle cx="940.8" cy="62.1" r="0.7" fill="#2c5242" opacity="0.6"/>
<circle cx="919.2" cy="73.2" r="0.7" fill="#2c5242" opacity="0.6"/>
<circle cx="911.0" cy="51.3" r="0.7" fill="#2c5242" opacity="0.6"/>
<path d="M915.2,93.5 L893.4,75.4" stroke="#b39a6c" stroke-width="1.9" stroke-linecap="round" fill="none"/>
<path d="M914,90 L903,84.5 M909,88 L904,81" stroke="#8a6a40" stroke-width="1.1" stroke-linecap="round" fill="none"/>
<path d="M919.5,88.5 L929.6,79.7 M920,90 L927.5,84.5 M919,86 L925,77.5" stroke="#a07848" stroke-width="1.2" stroke-linecap="round" fill="none"/>
<path d="M913.6,120 L914.6,96 L916,88 L921,88 L921.6,100 L922.6,120Z" fill="#7a5632"/>
<path d="M918.5,120 L918.8,92 L921,90 L921.6,100 L922.6,120Z" fill="#9a6c34"/>
<path d="M915.5,92 L914.2,84 L910.8,73.5 L912.2,72.8 L914.6,77.5 L914.6,68.6 L916.2,68.4 L917.2,76 L919.6,72.2 L920.8,73 L919.4,80 L922.4,78.5 L923,79.8 L920.6,84.5 L921,92Z" fill="#c08a3c"/>
<rect x="916" y="89" width="0.9" height="29.5" fill="#f0ead8"/>
<rect x="914.6" y="96" width="3.6" height="0.7" fill="#e0d6bc" opacity="0.8"/><rect x="914.8" y="99.5" width="3.2" height="0.7" fill="#e0d6bc" opacity="0.7"/>
<rect x="903.9" y="119.8" width="24.6" height="3.8" rx="1.6" fill="#dcc698"/>
<path d="M903,124 H930" stroke="#2a1e16" stroke-width="1.2"/>
</g>
<text font-size="14.2" font-weight="bold" fill="#1b4434"><textPath href="#arcTop" textLength="139" lengthAdjust="spacingAndGlyphs">BOLSA DE VALORES</textPath></text>
<text font-size="14.2" font-weight="bold" fill="#1b4434"><textPath href="#arcBot" textLength="104" lengthAdjust="spacingAndGlyphs">DE CARACAS</textPath></text>
<circle cx="865.8" cy="94.3" r="1.9" fill="#1f3a2c"/>
<circle cx="966.6" cy="94.3" r="1.9" fill="#1f3a2c"/>
</svg>

<svg class="abs" style="left:60px;top:920px;" width="140" height="100" viewBox="60 920 140 100">
<rect x="74.2" y="932.8" width="40.3" height="40.8" rx="10.5" ry="10.5" fill="none" stroke="#fbfbf7" stroke-width="4.2"/>
<circle cx="94.7" cy="953.3" r="9.8" fill="none" stroke="#fbfbf7" stroke-width="4.6"/>
<circle cx="106.3" cy="940.2" r="2.5" fill="#fbfbf7"/>
<path transform="translate(128.6,959) scale(2.185,2.25)" fill="#fbfbf7" d="M23.953 4.57a10 10 0 01-2.825.775 4.958 4.958 0 002.163-2.723c-.951.555-2.005.959-3.127 1.184a4.92 4.92 0 00-8.384 4.482C7.69 8.095 4.067 6.13 1.64 3.162a4.822 4.822 0 00-.666 2.475c0 1.71.87 3.213 2.188 4.096a4.904 4.904 0 01-2.228-.616v.06a4.923 4.923 0 003.946 4.827 4.996 4.996 0 01-2.212.085 4.936 4.936 0 004.604 3.417 9.867 9.867 0 01-6.102 2.105c-.39 0-.779-.023-1.17-.067a13.995 13.995 0 007.557 2.209c9.053 0 13.998-7.496 13.998-13.985 0-.21 0-.42-.015-.63A9.935 9.935 0 0024 4.59z"/>
</svg>
<div class="soc" style="left:139.3px;top:927.4px;letter-spacing:1.02px;"><span class="at">@</span>bolsa.caracas</div>
<div class="soc" style="left:192.8px;top:972.8px;letter-spacing:0.86px;"><span class="at">@</span>bolsacaracas</div>
<div class="soc" style="left:637.6px;top:950.4px;font-size:32px;line-height:44px;letter-spacing:1.1px;">bolsadecaracas.com</div>

</body>
</html>
